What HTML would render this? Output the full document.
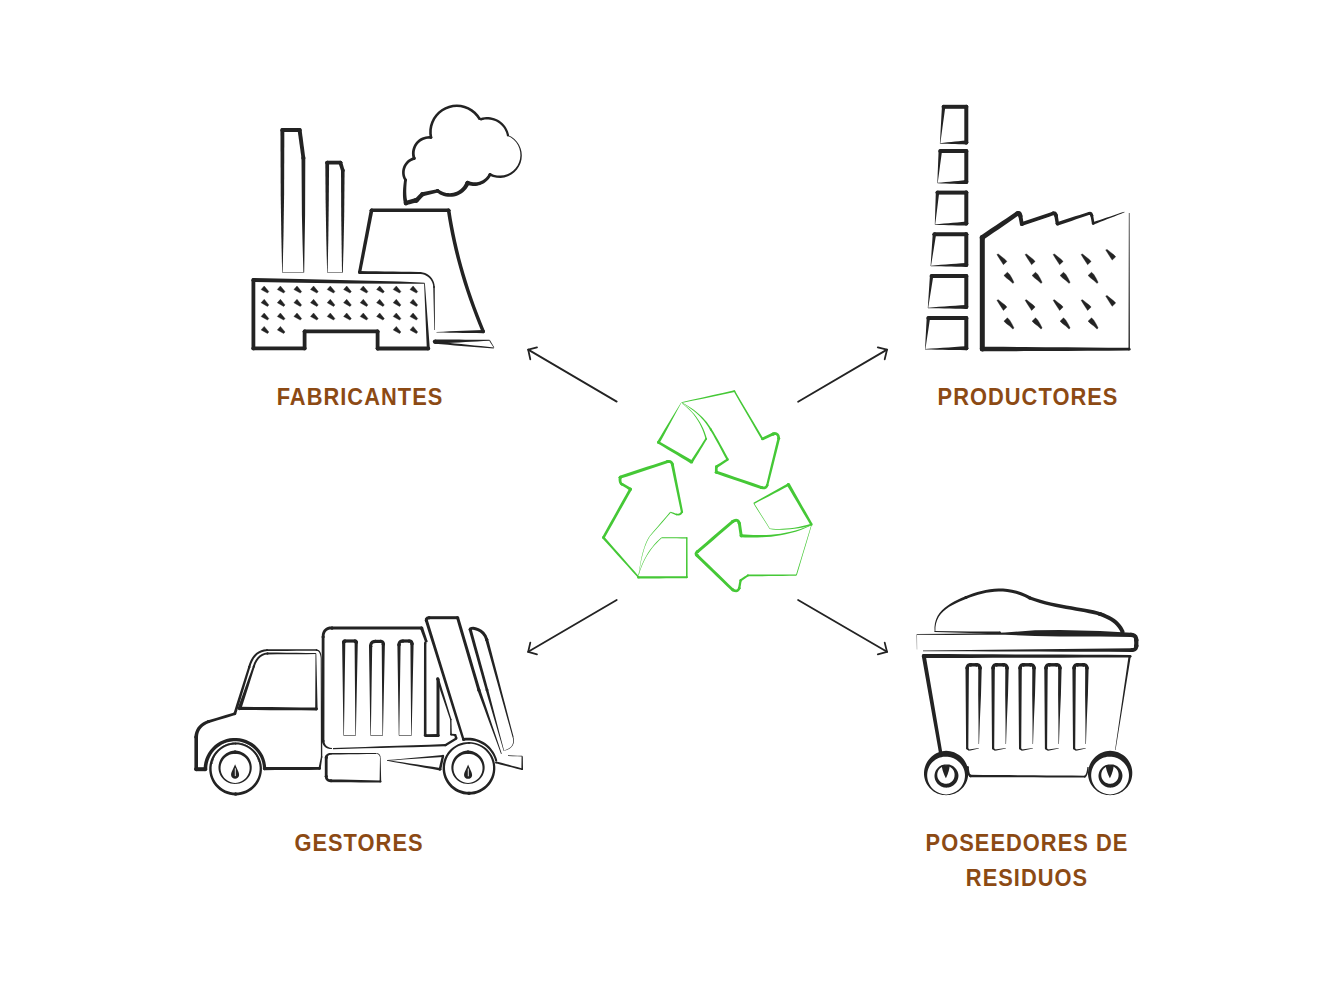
<!DOCTYPE html><html><head><meta charset="utf-8"><style>
html,body{margin:0;padding:0;background:#fff;width:1333px;height:1000px;overflow:hidden}
svg{position:absolute;left:0;top:0}
.lb{position:absolute;transform:translateX(-50%) scaleX(0.93);letter-spacing:1.1px;font-family:"Liberation Sans",sans-serif;font-weight:bold;font-size:23.5px;line-height:28px;color:#8c4a14;white-space:nowrap}
</style></head><body><svg width="1333" height="1000" viewBox="0 0 1333 1000"><path d="M616.7 401.6L528.2 349.6" stroke="#232323" stroke-width="1.8" fill="none" stroke-linecap="round"/><path d="M537 347.3L528.2 349.6L530.3 359.3" stroke="#232323" stroke-width="1.8" fill="none" stroke-linecap="round" stroke-linejoin="miter"/><path d="M798.1 401.8L887 349.6" stroke="#232323" stroke-width="1.8" fill="none" stroke-linecap="round"/><path d="M877.8 347.3L887 349.6L884.7 359.3" stroke="#232323" stroke-width="1.8" fill="none" stroke-linecap="round" stroke-linejoin="miter"/><path d="M616.7 600L528.2 651.8" stroke="#232323" stroke-width="1.8" fill="none" stroke-linecap="round"/><path d="M530.3 642.6L528.2 651.8L537 654.3" stroke="#232323" stroke-width="1.8" fill="none" stroke-linecap="round" stroke-linejoin="miter"/><path d="M798.1 600L887 651.8" stroke="#232323" stroke-width="1.8" fill="none" stroke-linecap="round"/><path d="M884.7 642.6L887 651.8L877.8 654.3" stroke="#232323" stroke-width="1.8" fill="none" stroke-linecap="round" stroke-linejoin="miter"/><path d="M282.65,272.5 283.5,235 284.1,195 284.35,130 280.45,130 280.7,195 281.3,235 282.15,272.5Z" fill="#232323"/><circle cx="282.4" cy="130" r="1.95" fill="#232323"/><path d="M282.4,132 299.6,132 299.6,128 282.4,128Z" fill="#232323"/><circle cx="282.4" cy="130" r="2" fill="#232323"/><circle cx="299.6" cy="130" r="2" fill="#232323"/><path d="M297.62,130.27 301.52,158.26 305.28,157.74 301.58,129.73Z" fill="#232323"/><circle cx="299.6" cy="130" r="2" fill="#232323"/><circle cx="303.4" cy="158" r="1.9" fill="#232323"/><path d="M301.5,158 301.9,215 302.6,245.01 303.4,272.5 304.2,272.5 304.6,244.99 305.1,215 305.3,158Z" fill="#232323"/><circle cx="303.4" cy="158" r="1.9" fill="#232323"/><path d="M282.4,272.85 303.6,272.65 303.6,272.15 282.4,272.35Z" fill="#232323"/><path d="M327.65,272.5 328.3,240 328.8,200 329.1,162.6 325.3,162.6 325.6,200 326.3,240 327.15,272.5Z" fill="#232323"/><circle cx="327.2" cy="162.6" r="1.9" fill="#232323"/><path d="M327.2,164.5 340.4,164.5 340.4,160.7 327.2,160.7Z" fill="#232323"/><circle cx="327.2" cy="162.6" r="1.9" fill="#232323"/><circle cx="340.4" cy="162.6" r="1.9" fill="#232323"/><path d="M338.58,163.15 341.08,171.02 344.52,169.98 342.22,162.05Z" fill="#232323"/><circle cx="340.4" cy="162.6" r="1.9" fill="#232323"/><circle cx="342.8" cy="170.5" r="1.8" fill="#232323"/><path d="M341,170.5 341.2,215 341.6,244.99 342,272.5 342.8,272.5 343.6,245.01 344.2,215 344.6,170.5Z" fill="#232323"/><circle cx="342.8" cy="170.5" r="1.8" fill="#232323"/><path d="M327.4,272.85 342.4,272.65 342.4,272.15 327.4,272.35Z" fill="#232323"/><path d="M361.17,272.6 373.37,210.54 369.83,209.86 358.03,272Z" fill="#232323"/><circle cx="359.6" cy="272.3" r="1.6" fill="#232323"/><circle cx="371.6" cy="210.2" r="1.8" fill="#232323"/><path d="M371.6,212 448.6,212 448.6,208.4 371.6,208.4Z" fill="#232323"/><circle cx="371.6" cy="210.2" r="1.8" fill="#232323"/><circle cx="448.6" cy="210.2" r="1.8" fill="#232323"/><path d="M446.82,210.48 448.09,218.48 449.52,226.51 451.09,234.55 452.82,242.61 454.69,250.68 456.72,258.77 458.9,266.87 461.22,274.99 463.7,283.13 466.33,291.28 469.11,299.44 472.04,307.62 475.12,315.82 478.35,324.03 481.73,332.25 484.87,330.95 481.52,322.76 478.32,314.59 475.27,306.44 472.37,298.31 469.62,290.19 467.03,282.09 464.58,274 462.28,265.94 460.13,257.89 458.13,249.85 456.28,241.84 454.58,233.84 453.03,225.85 451.63,217.89 450.38,209.92Z" fill="#232323"/><circle cx="448.6" cy="210.2" r="1.8" fill="#232323"/><circle cx="483.3" cy="331.6" r="1.7" fill="#232323"/><path d="M436.5,332.5 443.19,332.6 449.88,332.7 456.57,332.8 463.26,332.9 469.94,333 476.63,333.1 483.32,333.2 483.28,330 476.6,330.27 469.91,330.54 463.23,330.81 456.55,331.09 449.86,331.36 443.18,331.63 436.5,331.9Z" fill="#232323"/><circle cx="483.3" cy="331.6" r="1.6" fill="#232323"/><path d="M359.59,273.9 368,273.91 376.42,273.93 384.83,273.94 393.25,273.96 401.66,273.97 410.08,273.99 418.49,274 418.51,272 410.09,271.87 401.68,271.74 393.27,271.61 384.85,271.49 376.44,271.36 368.03,271.23 359.61,271.1Z" fill="#232323"/><circle cx="359.6" cy="272.5" r="1.4" fill="#232323"/><circle cx="418.5" cy="273" r="1" fill="#232323"/><path d="M418.49,274 420.54,273.99 422.49,274.27 424.39,274.83 426.19,275.66 427.85,276.75 429.34,278.06 430.63,279.58 431.68,281.28 432.48,283.11 433.01,285.04 433.25,287.08 434.75,286.92 434.53,284.76 433.99,282.59 433.14,280.53 432,278.61 430.59,276.87 428.94,275.35 427.09,274.08 425.07,273.09 422.92,272.41 420.69,272.04 418.51,272Z" fill="#232323"/><circle cx="418.5" cy="273" r="1" fill="#232323"/><circle cx="434" cy="287" r="0.75" fill="#232323"/><path d="M433.25,287.01 433.4,293.15 433.55,299.29 433.7,305.44 433.85,311.58 434,317.72 434.15,323.86 434.3,330 434.9,330 434.88,323.85 434.86,317.71 434.84,311.56 434.81,305.42 434.79,299.28 434.77,293.13 434.75,286.99Z" fill="#232323"/><circle cx="434" cy="287" r="0.75" fill="#232323"/><path d="M435.05,343.8 441.1,343.46 447.15,343.12 453.21,342.78 459.26,342.44 465.31,342.11 471.36,341.77 477.41,341.43 483.46,341.09 489.51,340.75 489.49,339.85 483.43,339.8 477.37,339.75 471.31,339.7 465.25,339.65 459.19,339.6 453.13,339.55 447.07,339.5 441.01,339.45 434.95,339.4Z" fill="#232323"/><circle cx="435" cy="341.6" r="2.2" fill="#232323"/><path d="M434.89,343.79 441.43,344.32 447.97,344.85 454.51,345.38 461.05,345.91 467.59,346.44 474.13,346.96 480.67,347.49 487.21,348.02 493.75,348.55 493.85,347.45 487.32,346.78 480.8,346.11 474.27,345.44 467.74,344.76 461.22,344.09 454.69,343.42 448.16,342.75 441.64,342.08 435.11,341.41Z" fill="#232323"/><circle cx="435" cy="342.6" r="1.2" fill="#232323"/><path d="M489.12,340.43 490.64,342.88 492.17,345.33 493.7,347.78 494.3,347.42 492.83,344.93 491.36,342.45 489.88,339.97Z" fill="#232323"/><path d="M424.51,282.75 400.02,281.6 350.03,280.15 300.04,279 253.44,278.05 253.36,281.95 299.96,282.8 349.97,283.45 399.98,283.8 424.49,283.65Z" fill="#232323"/><circle cx="253.4" cy="280" r="1.95" fill="#232323"/><path d="M251.5,280 251.5,348.4 255.3,348.4 255.3,280Z" fill="#232323"/><circle cx="253.4" cy="280" r="1.9" fill="#232323"/><circle cx="253.4" cy="348.4" r="1.9" fill="#232323"/><path d="M253.4,350.3 304.6,350.3 304.6,346.5 253.4,346.5Z" fill="#232323"/><circle cx="253.4" cy="348.4" r="1.9" fill="#232323"/><circle cx="304.6" cy="348.4" r="1.9" fill="#232323"/><path d="M306.5,348.4 306.5,331.4 302.7,331.4 302.7,348.4Z" fill="#232323"/><circle cx="304.6" cy="348.4" r="1.9" fill="#232323"/><circle cx="304.6" cy="331.4" r="1.9" fill="#232323"/><path d="M304.6,333.3 377.6,333.3 377.6,329.5 304.6,329.5Z" fill="#232323"/><circle cx="304.6" cy="331.4" r="1.9" fill="#232323"/><circle cx="377.6" cy="331.4" r="1.9" fill="#232323"/><path d="M375.7,331.4 375.7,348.5 379.5,348.5 379.5,331.4Z" fill="#232323"/><circle cx="377.6" cy="331.4" r="1.9" fill="#232323"/><circle cx="377.6" cy="348.5" r="1.9" fill="#232323"/><path d="M377.6,350.4 428.3,350.4 428.3,346.6 377.6,346.6Z" fill="#232323"/><circle cx="377.6" cy="348.5" r="1.9" fill="#232323"/><circle cx="428.3" cy="348.5" r="1.9" fill="#232323"/><path d="M429.8,348.41 429.1,339.09 428.4,329.77 427.7,320.45 427,311.14 426.3,301.82 425.6,292.5 424.9,283.18 424.1,283.22 424.49,292.56 424.87,301.9 425.26,311.24 425.64,320.57 426.03,329.91 426.42,339.25 426.8,348.59Z" fill="#232323"/><circle cx="428.3" cy="348.5" r="1.5" fill="#232323"/><path d="M264.2,286 268.8,291.6 267.5,293.1 261.1,289.5Z" fill="#232323" stroke="#232323" stroke-width="0.4" stroke-linejoin="round"/><path d="M280.4,286 285,291.6 283.7,293.1 277.3,289.5Z" fill="#232323" stroke="#232323" stroke-width="0.4" stroke-linejoin="round"/><path d="M297,286 301.6,291.6 300.3,293.1 293.9,289.5Z" fill="#232323" stroke="#232323" stroke-width="0.4" stroke-linejoin="round"/><path d="M313.6,286 318.2,291.6 316.9,293.1 310.5,289.5Z" fill="#232323" stroke="#232323" stroke-width="0.4" stroke-linejoin="round"/><path d="M330.3,286 334.9,291.6 333.6,293.1 327.2,289.5Z" fill="#232323" stroke="#232323" stroke-width="0.4" stroke-linejoin="round"/><path d="M346.7,286 351.3,291.6 350,293.1 343.6,289.5Z" fill="#232323" stroke="#232323" stroke-width="0.4" stroke-linejoin="round"/><path d="M363.3,286 367.9,291.6 366.6,293.1 360.2,289.5Z" fill="#232323" stroke="#232323" stroke-width="0.4" stroke-linejoin="round"/><path d="M379.7,286 384.3,291.6 383,293.1 376.6,289.5Z" fill="#232323" stroke="#232323" stroke-width="0.4" stroke-linejoin="round"/><path d="M396.3,286 400.9,291.6 399.6,293.1 393.2,289.5Z" fill="#232323" stroke="#232323" stroke-width="0.4" stroke-linejoin="round"/><path d="M413.1,286 417.7,291.6 416.4,293.1 410,289.5Z" fill="#232323" stroke="#232323" stroke-width="0.4" stroke-linejoin="round"/><path d="M264.2,299.3 268.8,304.9 267.5,306.4 261.1,302.8Z" fill="#232323" stroke="#232323" stroke-width="0.4" stroke-linejoin="round"/><path d="M280.4,299.3 285,304.9 283.7,306.4 277.3,302.8Z" fill="#232323" stroke="#232323" stroke-width="0.4" stroke-linejoin="round"/><path d="M297,299.3 301.6,304.9 300.3,306.4 293.9,302.8Z" fill="#232323" stroke="#232323" stroke-width="0.4" stroke-linejoin="round"/><path d="M313.6,299.3 318.2,304.9 316.9,306.4 310.5,302.8Z" fill="#232323" stroke="#232323" stroke-width="0.4" stroke-linejoin="round"/><path d="M330.3,299.3 334.9,304.9 333.6,306.4 327.2,302.8Z" fill="#232323" stroke="#232323" stroke-width="0.4" stroke-linejoin="round"/><path d="M346.7,299.3 351.3,304.9 350,306.4 343.6,302.8Z" fill="#232323" stroke="#232323" stroke-width="0.4" stroke-linejoin="round"/><path d="M363.3,299.3 367.9,304.9 366.6,306.4 360.2,302.8Z" fill="#232323" stroke="#232323" stroke-width="0.4" stroke-linejoin="round"/><path d="M379.7,299.3 384.3,304.9 383,306.4 376.6,302.8Z" fill="#232323" stroke="#232323" stroke-width="0.4" stroke-linejoin="round"/><path d="M396.3,299.3 400.9,304.9 399.6,306.4 393.2,302.8Z" fill="#232323" stroke="#232323" stroke-width="0.4" stroke-linejoin="round"/><path d="M413.1,299.3 417.7,304.9 416.4,306.4 410,302.8Z" fill="#232323" stroke="#232323" stroke-width="0.4" stroke-linejoin="round"/><path d="M264.2,313 268.8,318.6 267.5,320.1 261.1,316.5Z" fill="#232323" stroke="#232323" stroke-width="0.4" stroke-linejoin="round"/><path d="M280.4,313 285,318.6 283.7,320.1 277.3,316.5Z" fill="#232323" stroke="#232323" stroke-width="0.4" stroke-linejoin="round"/><path d="M297,313 301.6,318.6 300.3,320.1 293.9,316.5Z" fill="#232323" stroke="#232323" stroke-width="0.4" stroke-linejoin="round"/><path d="M313.6,313 318.2,318.6 316.9,320.1 310.5,316.5Z" fill="#232323" stroke="#232323" stroke-width="0.4" stroke-linejoin="round"/><path d="M330.3,313 334.9,318.6 333.6,320.1 327.2,316.5Z" fill="#232323" stroke="#232323" stroke-width="0.4" stroke-linejoin="round"/><path d="M346.7,313 351.3,318.6 350,320.1 343.6,316.5Z" fill="#232323" stroke="#232323" stroke-width="0.4" stroke-linejoin="round"/><path d="M363.3,313 367.9,318.6 366.6,320.1 360.2,316.5Z" fill="#232323" stroke="#232323" stroke-width="0.4" stroke-linejoin="round"/><path d="M379.7,313 384.3,318.6 383,320.1 376.6,316.5Z" fill="#232323" stroke="#232323" stroke-width="0.4" stroke-linejoin="round"/><path d="M396.3,313 400.9,318.6 399.6,320.1 393.2,316.5Z" fill="#232323" stroke="#232323" stroke-width="0.4" stroke-linejoin="round"/><path d="M413.1,313 417.7,318.6 416.4,320.1 410,316.5Z" fill="#232323" stroke="#232323" stroke-width="0.4" stroke-linejoin="round"/><path d="M264.2,326.4 268.8,332 267.5,333.5 261.1,329.9Z" fill="#232323" stroke="#232323" stroke-width="0.4" stroke-linejoin="round"/><path d="M280.4,326.4 285,332 283.7,333.5 277.3,329.9Z" fill="#232323" stroke="#232323" stroke-width="0.4" stroke-linejoin="round"/><path d="M396.3,326.4 400.9,332 399.6,333.5 393.2,329.9Z" fill="#232323" stroke="#232323" stroke-width="0.4" stroke-linejoin="round"/><path d="M413.1,326.4 417.7,332 416.4,333.5 410,329.9Z" fill="#232323" stroke="#232323" stroke-width="0.4" stroke-linejoin="round"/><path d="M407.82,202.95 407.5,201.97 407.22,200.95 406.98,199.85 406.77,198.66 406.6,197.38 406.46,196.03 406.36,194.59 406.29,193.07 406.26,191.47 406.27,189.78 406.32,188.02 406.4,186.18 406.53,184.26 406.69,182.25 406.89,180.16 404.11,179.84 403.82,181.94 403.57,183.98 403.36,185.94 403.19,187.84 403.06,189.66 402.98,191.41 402.94,193.1 402.94,194.71 402.98,196.25 403.07,197.73 403.2,199.13 403.38,200.47 403.6,201.75 403.88,202.96 404.18,204.05Z" fill="#232323"/><circle cx="406" cy="203.5" r="1.9" fill="#232323"/><circle cx="405.5" cy="180" r="1.4" fill="#232323"/><path d="M406.64,179.38 406,178.19 405.5,177 405.12,175.77 404.86,174.51 404.73,173.23 404.73,171.94 404.85,170.66 405.09,169.4 405.46,168.17 405.95,166.98 406.55,165.84 407.26,164.77 408.07,163.78 408.97,162.87 409.96,162.05 411.02,161.34 412.15,160.73 413.33,160.23 414.62,159.84 413.78,157.16 412.37,157.61 410.94,158.22 409.58,158.97 408.3,159.85 407.11,160.85 406.03,161.96 405.06,163.17 404.21,164.47 403.49,165.84 402.92,167.28 402.49,168.77 402.2,170.29 402.07,171.83 402.09,173.38 402.25,174.92 402.57,176.43 403.04,177.9 403.65,179.32 404.36,180.62Z" fill="#232323"/><circle cx="405.5" cy="180" r="1.3" fill="#232323"/><circle cx="414.2" cy="158.5" r="1.4" fill="#232323"/><path d="M415.54,158.11 415.08,156.56 414.81,155.04 414.69,153.51 414.74,151.97 414.95,150.44 415.33,148.94 415.86,147.49 416.54,146.11 417.37,144.81 418.33,143.6 419.42,142.49 420.61,141.51 421.91,140.67 423.28,139.96 424.73,139.41 426.22,139.01 427.75,138.77 429.3,138.7 430.92,138.8 431.08,136.2 429.33,136.09 427.5,136.16 425.69,136.43 423.92,136.89 422.21,137.54 420.58,138.36 419.04,139.35 417.61,140.51 416.32,141.8 415.17,143.23 414.18,144.77 413.36,146.41 412.72,148.13 412.26,149.91 411.99,151.72 411.92,153.56 412.05,155.39 412.37,157.2 412.86,158.89Z" fill="#232323"/><circle cx="414.2" cy="158.5" r="1.4" fill="#232323"/><circle cx="431" cy="137.5" r="1.3" fill="#232323"/><path d="M432.29,137.33 431.78,133.56 431.84,129.85 432.45,126.19 433.59,122.66 435.24,119.33 437.37,116.29 439.92,113.6 442.84,111.31 446.06,109.48 449.52,108.14 453.14,107.33 456.85,107.07 460.54,107.35 464.16,108.18 467.61,109.54 470.83,111.39 473.74,113.69 476.27,116.4 478.43,119.54 480.57,118.06 478.3,114.77 475.5,111.78 472.29,109.24 468.74,107.19 464.93,105.7 460.94,104.78 456.85,104.47 452.77,104.76 448.77,105.65 444.95,107.13 441.39,109.15 438.16,111.67 435.35,114.65 433.01,118.01 431.18,121.68 429.92,125.57 429.25,129.61 429.19,133.71 429.71,137.67Z" fill="#232323"/><circle cx="431" cy="137.5" r="1.3" fill="#232323"/><circle cx="479.5" cy="118.8" r="1.3" fill="#232323"/><path d="M481.3,120.36 483.06,119.89 484.81,119.6 486.57,119.45 488.34,119.47 490.1,119.64 491.84,119.96 493.54,120.44 495.2,121.07 496.79,121.84 498.31,122.75 499.74,123.8 501.08,124.96 502.31,126.24 503.41,127.62 504.4,129.1 505.24,130.66 505.95,132.29 506.51,133.97 506.93,135.75 509.07,135.25 508.64,133.38 508.03,131.5 507.25,129.69 506.32,127.95 505.24,126.3 504.01,124.75 502.65,123.32 501.17,122.01 499.58,120.84 497.89,119.82 496.12,118.95 494.28,118.23 492.38,117.69 490.43,117.31 488.47,117.11 486.49,117.09 484.51,117.23 482.56,117.56 480.7,118.04Z" fill="#232323"/><circle cx="481" cy="119.2" r="1.2" fill="#232323"/><circle cx="508" cy="135.5" r="1.1" fill="#232323"/><path d="M507.84,135.81 510.99,137.52 513.78,139.72 516.15,142.35 518.05,145.33 519.41,148.58 520.2,152.01 520.41,155.51 520.03,158.99 519.07,162.34 517.57,165.49 515.56,168.32 513.12,170.78 510.3,172.78 507.19,174.28 503.88,175.23 500.47,175.61 497.06,175.41 493.73,174.65 490.48,173.29 489.52,175.71 493,177.04 496.75,177.79 500.57,177.91 504.34,177.38 507.97,176.23 511.34,174.49 514.36,172.21 516.96,169.46 519.05,166.33 520.58,162.89 521.51,159.26 521.81,155.52 521.49,151.8 520.54,148.2 519.01,144.81 516.94,141.73 514.38,139.06 511.42,136.85 508.16,135.19Z" fill="#232323"/><circle cx="490" cy="174.5" r="1.3" fill="#232323"/><path d="M488.78,173.82 488.11,174.96 487.38,176 486.57,176.98 485.69,177.88 484.75,178.72 483.74,179.48 482.68,180.15 481.57,180.73 480.42,181.23 479.24,181.64 478.03,181.95 476.81,182.16 475.57,182.27 474.33,182.29 473.1,182.21 471.88,182.04 470.68,181.77 469.5,181.41 468.29,180.92 466.91,184.68 468.29,185.15 469.78,185.54 471.29,185.8 472.81,185.95 474.34,185.98 475.86,185.88 477.37,185.67 478.85,185.34 480.31,184.9 481.72,184.34 483.08,183.68 484.38,182.91 485.61,182.04 486.77,181.08 487.85,180.04 488.85,178.91 489.75,177.72 490.55,176.45 491.22,175.18Z" fill="#232323"/><circle cx="490" cy="174.5" r="1.4" fill="#232323"/><circle cx="467.6" cy="182.8" r="2" fill="#232323"/><path d="M465.69,181.93 464.97,183.58 464.14,185.05 463.17,186.44 462.06,187.73 460.83,188.91 459.5,189.96 458.06,190.88 456.54,191.65 454.94,192.27 453.3,192.73 451.61,193.03 449.9,193.16 448.18,193.12 446.48,192.92 444.8,192.54 443.16,192.01 441.58,191.31 440.08,190.46 438.59,189.42 436.61,192.18 438.2,193.35 439.98,194.41 441.86,195.28 443.81,195.97 445.82,196.47 447.88,196.76 449.95,196.86 452.03,196.74 454.09,196.43 456.11,195.91 458.07,195.2 459.95,194.3 461.74,193.21 463.41,191.96 464.96,190.54 466.36,188.98 467.6,187.29 468.67,185.48 469.51,183.67Z" fill="#232323"/><circle cx="467.6" cy="182.8" r="2.1" fill="#232323"/><circle cx="437.6" cy="190.8" r="1.7" fill="#232323"/><path d="M437.23,189.14 432.16,190.14 427.1,191.15 422.04,192.15 422.96,196.25 427.97,194.99 432.97,193.72 437.97,192.46Z" fill="#232323"/><circle cx="437.6" cy="190.8" r="1.7" fill="#232323"/><circle cx="422.5" cy="194.2" r="2.1" fill="#232323"/><path d="M421,192.73 418.86,194.81 416.71,196.9 414.56,198.99 417.84,202.21 419.89,200.03 421.94,197.85 424,195.67Z" fill="#232323"/><circle cx="422.5" cy="194.2" r="2.1" fill="#232323"/><circle cx="416.2" cy="200.6" r="2.3" fill="#232323"/><path d="M415.6,197.98 412.14,198.94 408.69,199.91 405.23,200.88 406.37,205.12 409.85,204.22 413.32,203.32 416.8,202.42Z" fill="#232323"/><circle cx="416.2" cy="200.2" r="2.3" fill="#232323"/><circle cx="405.8" cy="203" r="2.2" fill="#232323"/><path d="M943.6,108.8 951.17,108.8 958.73,108.8 966.3,108.8 966.3,104.8 958.73,104.8 951.17,104.8 943.6,104.8Z" fill="#232323"/><circle cx="943.6" cy="106.8" r="2" fill="#232323"/><circle cx="966.3" cy="106.8" r="2" fill="#232323"/><path d="M964.3,106.8 964.3,118.67 964.3,130.53 964.3,142.4 968.3,142.4 968.3,130.53 968.3,118.67 968.3,106.8Z" fill="#232323"/><circle cx="966.3" cy="106.8" r="2" fill="#232323"/><circle cx="966.3" cy="142.4" r="2" fill="#232323"/><path d="M966.22,140.4 962.49,140.79 958.76,141.19 955.02,141.58 951.29,141.97 947.56,142.36 943.82,142.76 940.09,143.15 940.11,143.65 943.86,143.76 947.61,143.86 951.37,143.97 955.12,144.08 958.87,144.18 962.62,144.29 966.38,144.4Z" fill="#232323"/><circle cx="966.3" cy="142.4" r="2" fill="#232323"/><path d="M941.91,106.64 941.62,111.89 941.33,117.14 941.05,122.39 940.76,127.63 940.47,132.88 940.19,138.13 939.9,143.38 940.3,143.42 941.01,138.21 941.73,133 942.44,127.79 943.15,122.59 943.87,117.38 944.58,112.17 945.29,106.96Z" fill="#232323"/><circle cx="943.6" cy="106.8" r="1.7" fill="#232323"/><path d="M940.3,153 948.97,153 957.63,153 966.3,153 966.3,149 957.63,149 948.97,149 940.3,149Z" fill="#232323"/><circle cx="940.3" cy="151" r="2" fill="#232323"/><circle cx="966.3" cy="151" r="2" fill="#232323"/><path d="M964.3,151 964.3,161.37 964.3,171.73 964.3,182.1 968.3,182.1 968.3,171.73 968.3,161.37 968.3,151Z" fill="#232323"/><circle cx="966.3" cy="151" r="2" fill="#232323"/><circle cx="966.3" cy="182.1" r="2" fill="#232323"/><path d="M966.23,180.1 962.12,180.49 958.02,180.89 953.91,181.28 949.81,181.67 945.7,182.06 941.6,182.46 937.49,182.85 937.51,183.35 941.63,183.46 945.75,183.56 949.88,183.67 954,183.78 958.12,183.88 962.25,183.99 966.37,184.1Z" fill="#232323"/><circle cx="966.3" cy="182.1" r="2" fill="#232323"/><path d="M938.61,150.85 938.42,155.46 938.23,160.06 938.05,164.67 937.86,169.27 937.67,173.87 937.49,178.48 937.3,183.08 937.7,183.12 938.31,178.55 938.93,173.98 939.54,169.42 940.15,164.85 940.77,160.28 941.38,155.71 941.99,151.15Z" fill="#232323"/><circle cx="940.3" cy="151" r="1.7" fill="#232323"/><path d="M937.5,194.6 947.1,194.6 956.7,194.6 966.3,194.6 966.3,190.6 956.7,190.6 947.1,190.6 937.5,190.6Z" fill="#232323"/><circle cx="937.5" cy="192.6" r="2" fill="#232323"/><circle cx="966.3" cy="192.6" r="2" fill="#232323"/><path d="M964.3,192.6 964.3,202.93 964.3,213.27 964.3,223.6 968.3,223.6 968.3,213.27 968.3,202.93 968.3,192.6Z" fill="#232323"/><circle cx="966.3" cy="192.6" r="2" fill="#232323"/><circle cx="966.3" cy="223.6" r="2" fill="#232323"/><path d="M966.24,221.6 961.77,221.99 957.31,222.39 952.85,222.78 948.38,223.17 943.92,223.56 939.46,223.96 934.99,224.35 935.01,224.85 939.49,224.96 943.97,225.06 948.45,225.17 952.93,225.28 957.41,225.38 961.88,225.49 966.36,225.6Z" fill="#232323"/><circle cx="966.3" cy="223.6" r="2" fill="#232323"/><path d="M935.81,192.47 935.66,197.06 935.52,201.64 935.37,206.23 935.23,210.82 935.09,215.41 934.94,220 934.8,224.58 935.2,224.62 935.77,220.06 936.34,215.51 936.91,210.95 937.48,206.4 938.05,201.84 938.62,197.29 939.19,192.73Z" fill="#232323"/><circle cx="937.5" cy="192.6" r="1.7" fill="#232323"/><path d="M934.4,236.3 945.03,236.3 955.67,236.3 966.3,236.3 966.3,232.3 955.67,232.3 945.03,232.3 934.4,232.3Z" fill="#232323"/><circle cx="934.4" cy="234.3" r="2" fill="#232323"/><circle cx="966.3" cy="234.3" r="2" fill="#232323"/><path d="M964.3,234.3 964.3,244.5 964.3,254.7 964.3,264.9 968.3,264.9 968.3,254.7 968.3,244.5 968.3,234.3Z" fill="#232323"/><circle cx="966.3" cy="234.3" r="2" fill="#232323"/><circle cx="966.3" cy="264.9" r="2" fill="#232323"/><path d="M966.24,262.9 961.18,263.29 956.11,263.69 951.05,264.08 945.99,264.47 940.92,264.86 935.86,265.26 930.79,265.65 930.81,266.15 935.89,266.26 940.96,266.36 946.04,266.47 951.12,266.58 956.2,266.69 961.28,266.79 966.36,266.9Z" fill="#232323"/><circle cx="966.3" cy="264.9" r="2" fill="#232323"/><path d="M932.71,234.11 932.41,238.65 932.11,243.18 931.81,247.72 931.51,252.26 931.2,256.8 930.9,261.34 930.6,265.88 931,265.92 931.73,261.43 932.45,256.94 933.18,252.45 933.91,247.96 934.63,243.47 935.36,238.98 936.09,234.49Z" fill="#232323"/><circle cx="934.4" cy="234.3" r="1.7" fill="#232323"/><path d="M931.6,277.9 943.17,277.9 954.73,277.9 966.3,277.9 966.3,273.9 954.73,273.9 943.17,273.9 931.6,273.9Z" fill="#232323"/><circle cx="931.6" cy="275.9" r="2" fill="#232323"/><circle cx="966.3" cy="275.9" r="2" fill="#232323"/><path d="M964.3,275.9 964.3,286.23 964.3,296.57 964.3,306.9 968.3,306.9 968.3,296.57 968.3,286.23 968.3,275.9Z" fill="#232323"/><circle cx="966.3" cy="275.9" r="2" fill="#232323"/><circle cx="966.3" cy="306.9" r="2" fill="#232323"/><path d="M966.25,304.9 960.78,305.29 955.32,305.69 949.85,306.08 944.39,306.47 938.92,306.86 933.46,307.26 927.99,307.65 928.01,308.15 933.48,308.26 938.96,308.36 944.44,308.47 949.92,308.58 955.4,308.69 960.87,308.79 966.35,308.9Z" fill="#232323"/><circle cx="966.3" cy="306.9" r="2" fill="#232323"/><path d="M929.91,275.71 929.61,280.31 929.31,284.9 929.01,289.5 928.71,294.09 928.4,298.69 928.1,303.28 927.8,307.88 928.2,307.92 928.93,303.37 929.65,298.83 930.38,294.28 931.11,289.73 931.83,285.18 932.56,280.64 933.29,276.09Z" fill="#232323"/><circle cx="931.6" cy="275.9" r="1.7" fill="#232323"/><path d="M928.4,319.9 941.03,319.9 953.67,319.9 966.3,319.9 966.3,315.9 953.67,315.9 941.03,315.9 928.4,315.9Z" fill="#232323"/><circle cx="928.4" cy="317.9" r="2" fill="#232323"/><circle cx="966.3" cy="317.9" r="2" fill="#232323"/><path d="M964.3,317.9 964.3,328 964.3,338.1 964.3,348.2 968.3,348.2 968.3,338.1 968.3,328 968.3,317.9Z" fill="#232323"/><circle cx="966.3" cy="317.9" r="2" fill="#232323"/><circle cx="966.3" cy="348.2" r="2" fill="#232323"/><path d="M966.25,346.2 960.39,346.59 954.52,346.99 948.66,347.38 942.79,347.77 936.92,348.16 931.06,348.56 925.19,348.95 925.21,349.45 931.08,349.56 936.96,349.66 942.84,349.77 948.72,349.88 954.59,349.99 960.47,350.09 966.35,350.2Z" fill="#232323"/><circle cx="966.3" cy="348.2" r="2" fill="#232323"/><path d="M926.71,317.73 926.46,322.22 926.22,326.71 925.98,331.21 925.73,335.7 925.49,340.19 925.25,344.69 925,349.18 925.4,349.22 926.07,344.77 926.74,340.32 927.41,335.87 928.08,331.42 928.75,326.97 929.42,322.52 930.09,318.07Z" fill="#232323"/><circle cx="928.4" cy="317.9" r="1.7" fill="#232323"/><path d="M984.8,349 984.8,237.5 979.8,237.5 979.8,349Z" fill="#232323"/><circle cx="982.3" cy="349" r="2.5" fill="#232323"/><circle cx="982.3" cy="237.5" r="2.5" fill="#232323"/><path d="M983.71,239.56 988.73,236.09 993.75,232.61 998.77,229.13 1003.78,225.65 1008.8,222.17 1013.82,218.7 1018.84,215.22 1016.36,211.58 1011.29,214.99 1006.23,218.4 1001.16,221.81 996.09,225.21 991.02,228.62 985.96,232.03 980.89,235.44Z" fill="#232323"/><circle cx="982.3" cy="237.5" r="2.5" fill="#232323"/><circle cx="1017.6" cy="213.4" r="2.2" fill="#232323"/><path d="M1018.31,215.48 1018.64,215.27 1018.13,215.14 1017.93,214.95 1018.14,215.32 1018.45,216.45 1022.35,215.55 1022.05,214.04 1021.39,212.57 1020.08,211.34 1018.19,210.97 1016.89,211.32Z" fill="#232323"/><circle cx="1017.6" cy="213.4" r="2.2" fill="#232323"/><circle cx="1020.4" cy="216" r="2" fill="#232323"/><path d="M1018.43,216.34 1018.93,219.01 1019.43,221.67 1019.93,224.33 1023.67,223.67 1023.24,221 1022.8,218.33 1022.37,215.66Z" fill="#232323"/><circle cx="1020.4" cy="216" r="2" fill="#232323"/><circle cx="1021.8" cy="224" r="1.9" fill="#232323"/><path d="M1022.41,225.8 1026.89,224.27 1031.37,222.74 1035.85,221.22 1040.33,219.69 1044.81,218.16 1049.29,216.63 1053.78,215.11 1052.62,211.69 1048.13,213.2 1043.64,214.7 1039.15,216.2 1034.66,217.7 1030.17,219.2 1025.68,220.7 1021.19,222.2Z" fill="#232323"/><circle cx="1021.8" cy="224" r="1.9" fill="#232323"/><circle cx="1053.2" cy="213.4" r="1.8" fill="#232323"/><path d="M1053.7,215.13 1054.19,214.95 1054.03,214.9 1053.91,214.82 1054.06,215.08 1054.32,215.98 1057.68,215.02 1057.33,213.76 1056.62,212.53 1055.38,211.61 1053.85,211.38 1052.7,211.67Z" fill="#232323"/><circle cx="1053.2" cy="213.4" r="1.8" fill="#232323"/><circle cx="1056" cy="215.5" r="1.75" fill="#232323"/><path d="M1054.27,215.79 1054.76,218.55 1055.24,221.32 1055.72,224.08 1059.08,223.52 1058.63,220.75 1058.18,217.98 1057.73,215.21Z" fill="#232323"/><circle cx="1056" cy="215.5" r="1.75" fill="#232323"/><circle cx="1057.4" cy="223.8" r="1.7" fill="#232323"/><path d="M1057.93,225.42 1062.46,223.9 1067,222.39 1071.53,220.88 1076.06,219.36 1080.6,217.85 1085.13,216.34 1089.67,214.83 1088.73,211.97 1084.18,213.43 1079.63,214.89 1075.08,216.35 1070.53,217.81 1065.98,219.27 1061.42,220.73 1056.87,222.18Z" fill="#232323"/><circle cx="1057.4" cy="223.8" r="1.7" fill="#232323"/><circle cx="1089.2" cy="213.4" r="1.5" fill="#232323"/><path d="M1089.54,214.86 1090,214.71 1089.95,214.68 1089.97,214.69 1090.18,215.03 1090.46,215.89 1093.14,215.11 1092.83,213.95 1092.22,212.86 1091.2,212.03 1089.89,211.75 1088.86,211.94Z" fill="#232323"/><circle cx="1089.2" cy="213.4" r="1.5" fill="#232323"/><circle cx="1091.8" cy="215.5" r="1.4" fill="#232323"/><path d="M1090.42,215.74 1090.92,218.37 1091.42,221 1091.92,223.63 1094.48,223.17 1094.05,220.53 1093.61,217.89 1093.18,215.26Z" fill="#232323"/><circle cx="1091.8" cy="215.5" r="1.4" fill="#232323"/><circle cx="1093.2" cy="223.4" r="1.3" fill="#232323"/><path d="M1093.61,224.53 1097.06,223.17 1100.5,221.82 1103.95,220.46 1107.39,219.11 1110.84,217.75 1114.28,216.4 1117.73,215.04 1121.17,213.68 1124.62,212.33 1124.38,211.67 1120.87,212.85 1117.36,214.03 1113.85,215.2 1110.34,216.38 1106.83,217.56 1103.32,218.74 1099.81,219.92 1096.3,221.09 1092.79,222.27Z" fill="#232323"/><circle cx="1093.2" cy="223.4" r="1.2" fill="#232323"/><path d="M1128.85,213 1128.8,232.43 1128.75,251.86 1128.7,271.29 1128.65,290.71 1128.6,310.14 1128.55,329.57 1128.5,349 1129.9,349 1129.85,329.57 1129.8,310.14 1129.75,290.71 1129.7,271.29 1129.65,251.86 1129.6,232.43 1129.55,213Z" fill="#232323"/><circle cx="1129.2" cy="349" r="0.7" fill="#232323"/><path d="M982.3,351.3 1003.28,351.2 1024.27,351.1 1045.25,351 1066.24,350.9 1087.23,350.8 1108.21,350.7 1129.2,350.6 1129.2,347.8 1108.22,347.64 1087.23,347.49 1066.25,347.33 1045.26,347.17 1024.27,347.01 1003.29,346.86 982.3,346.7Z" fill="#232323"/><circle cx="982.3" cy="349" r="2.3" fill="#232323"/><circle cx="1129.2" cy="349.2" r="1.4" fill="#232323"/><path d="M996.9,254.5 998.3,254 1002,257 1005.1,259.4 1006.9,261.4 1003.4,264.7 1002,262.6 999.5,258.7Z" fill="#232323" stroke="#232323" stroke-width="0.4" stroke-linejoin="round"/><path d="M1025.1,254.5 1026.5,254 1030.2,257 1033.3,259.4 1035.1,261.4 1031.6,264.7 1030.2,262.6 1027.7,258.7Z" fill="#232323" stroke="#232323" stroke-width="0.4" stroke-linejoin="round"/><path d="M1053.1,254.5 1054.5,254 1058.2,257 1061.3,259.4 1063.1,261.4 1059.6,264.7 1058.2,262.6 1055.7,258.7Z" fill="#232323" stroke="#232323" stroke-width="0.4" stroke-linejoin="round"/><path d="M1081.1,254.5 1082.5,254 1086.2,257 1089.3,259.4 1091.1,261.4 1087.6,264.7 1086.2,262.6 1083.7,258.7Z" fill="#232323" stroke="#232323" stroke-width="0.4" stroke-linejoin="round"/><path d="M996.9,300.2 998.3,299.7 1002,302.7 1005.1,305.1 1006.9,307.1 1003.4,310.4 1002,308.3 999.5,304.4Z" fill="#232323" stroke="#232323" stroke-width="0.4" stroke-linejoin="round"/><path d="M1025.1,300.2 1026.5,299.7 1030.2,302.7 1033.3,305.1 1035.1,307.1 1031.6,310.4 1030.2,308.3 1027.7,304.4Z" fill="#232323" stroke="#232323" stroke-width="0.4" stroke-linejoin="round"/><path d="M1053.1,300.2 1054.5,299.7 1058.2,302.7 1061.3,305.1 1063.1,307.1 1059.6,310.4 1058.2,308.3 1055.7,304.4Z" fill="#232323" stroke="#232323" stroke-width="0.4" stroke-linejoin="round"/><path d="M1081.1,300.2 1082.5,299.7 1086.2,302.7 1089.3,305.1 1091.1,307.1 1087.6,310.4 1086.2,308.3 1083.7,304.4Z" fill="#232323" stroke="#232323" stroke-width="0.4" stroke-linejoin="round"/><path d="M1003.9,275.5 1007.4,272.2 1009.7,274.5 1011.8,278 1013.9,282.2 1013.15,283.25 1012.5,283.1 1009.7,280.4 1006.5,278Z" fill="#232323" stroke="#232323" stroke-width="0.4" stroke-linejoin="round"/><path d="M1032.05,275.5 1035.55,272.2 1037.85,274.5 1039.95,278 1042.05,282.2 1041.3,283.25 1040.65,283.1 1037.85,280.4 1034.65,278Z" fill="#232323" stroke="#232323" stroke-width="0.4" stroke-linejoin="round"/><path d="M1060.05,275.5 1063.55,272.2 1065.85,274.5 1067.95,278 1070.05,282.2 1069.3,283.25 1068.65,283.1 1065.85,280.4 1062.65,278Z" fill="#232323" stroke="#232323" stroke-width="0.4" stroke-linejoin="round"/><path d="M1088.05,275.5 1091.55,272.2 1093.85,274.5 1095.95,278 1098.05,282.2 1097.3,283.25 1096.65,283.1 1093.85,280.4 1090.65,278Z" fill="#232323" stroke="#232323" stroke-width="0.4" stroke-linejoin="round"/><path d="M1003.9,321.15 1007.4,317.85 1009.7,320.15 1011.8,323.65 1013.9,327.85 1013.15,328.9 1012.5,328.75 1009.7,326.05 1006.5,323.65Z" fill="#232323" stroke="#232323" stroke-width="0.4" stroke-linejoin="round"/><path d="M1032.05,321.15 1035.55,317.85 1037.85,320.15 1039.95,323.65 1042.05,327.85 1041.3,328.9 1040.65,328.75 1037.85,326.05 1034.65,323.65Z" fill="#232323" stroke="#232323" stroke-width="0.4" stroke-linejoin="round"/><path d="M1060.05,321.15 1063.55,317.85 1065.85,320.15 1067.95,323.65 1070.05,327.85 1069.3,328.9 1068.65,328.75 1065.85,326.05 1062.65,323.65Z" fill="#232323" stroke="#232323" stroke-width="0.4" stroke-linejoin="round"/><path d="M1088.05,321.15 1091.55,317.85 1093.85,320.15 1095.95,323.65 1098.05,327.85 1097.3,328.9 1096.65,328.75 1093.85,326.05 1090.65,323.65Z" fill="#232323" stroke="#232323" stroke-width="0.4" stroke-linejoin="round"/><path d="M1105.7,249.9 1107.1,249.4 1110.8,252.4 1113.9,254.8 1115.7,256.8 1112.2,260.1 1110.8,258 1108.3,254.1Z" fill="#232323" stroke="#232323" stroke-width="0.4" stroke-linejoin="round"/><path d="M1105.7,296.1 1107.1,295.6 1110.8,298.6 1113.9,301 1115.7,303 1112.2,306.3 1110.8,304.2 1108.3,300.3Z" fill="#232323" stroke="#232323" stroke-width="0.4" stroke-linejoin="round"/><path d="M198,769 198,758.33 198,747.67 198,737 194.4,737 194.4,747.67 194.4,758.33 194.4,769Z" fill="#232323"/><circle cx="196.2" cy="769" r="1.8" fill="#232323"/><circle cx="196.2" cy="737" r="1.8" fill="#232323"/><path d="M197.99,737.18 198.17,734.92 198.6,732.95 199.28,731.14 200.21,729.47 201.4,727.93 202.86,726.51 204.62,725.22 206.67,724.04 209.08,722.98 207.92,720.22 205.33,721.27 202.94,722.55 200.83,724.02 198.99,725.7 197.45,727.58 196.21,729.66 195.29,731.92 194.69,734.35 194.41,736.82Z" fill="#232323"/><circle cx="196.2" cy="737" r="1.8" fill="#232323"/><circle cx="208.5" cy="721.6" r="1.5" fill="#232323"/><path d="M208.93,723.04 217.67,720.37 226.42,717.71 235.17,715.05 234.43,712.55 225.64,715.09 216.86,717.63 208.07,720.16Z" fill="#232323"/><circle cx="208.5" cy="721.6" r="1.5" fill="#232323"/><circle cx="234.8" cy="713.8" r="1.3" fill="#232323"/><path d="M236.14,714.21 238.96,704.88 241.78,695.54 244.61,686.2 247.43,676.86 250.25,667.52 248.15,666.88 245.21,676.18 242.27,685.48 239.34,694.78 236.4,704.08 233.46,713.39Z" fill="#232323"/><circle cx="234.8" cy="713.8" r="1.4" fill="#232323"/><circle cx="249.2" cy="667.2" r="1.1" fill="#232323"/><path d="M250.25,667.53 251.28,664.12 252.51,661.15 253.94,658.59 255.59,656.41 257.44,654.62 259.49,653.19 261.77,652.13 264.28,651.43 267.1,651.09 266.9,649.31 263.94,649.62 261.14,650.36 258.55,651.52 256.2,653.09 254.09,655.07 252.23,657.46 250.63,660.23 249.26,663.38 248.15,666.87Z" fill="#232323"/><circle cx="249.2" cy="667.2" r="1.1" fill="#232323"/><circle cx="267" cy="650.2" r="0.9" fill="#232323"/><path d="M267,651.1 276.9,651.02 286.8,650.94 296.7,650.86 306.6,650.78 316.5,650.7 316.5,649.3 306.6,649.3 296.7,649.3 286.8,649.3 276.9,649.3 267,649.3Z" fill="#232323"/><circle cx="267" cy="650.2" r="0.9" fill="#232323"/><circle cx="316.5" cy="650" r="0.7" fill="#232323"/><path d="M316.34,650.68 317.35,650.89 318.15,651.33 318.86,652.04 319.49,653.06 320.02,654.4 320.42,656.06 320.7,658.06 321.7,657.94 321.49,655.89 321.12,654.09 320.59,652.55 319.88,651.29 318.96,650.3 317.85,649.63 316.66,649.32Z" fill="#232323"/><circle cx="316.5" cy="650" r="0.7" fill="#232323"/><path d="M320.7,658 320.73,672.14 320.76,686.29 320.79,700.43 320.81,714.57 320.84,728.72 320.87,742.86 320.9,757 322.3,757 322.21,742.85 322.13,728.71 322.04,714.57 321.96,700.43 321.87,686.28 321.79,672.14 321.7,658Z" fill="#232323"/><circle cx="321.6" cy="757" r="0.7" fill="#232323"/><path d="M320.91,756.88 320.11,760.66 319.31,764.43 318.52,768.21 320.68,768.59 321.22,764.77 321.75,760.94 322.29,757.12Z" fill="#232323"/><circle cx="321.6" cy="757" r="0.7" fill="#232323"/><circle cx="319.6" cy="768.4" r="1.1" fill="#232323"/><path d="M319.59,767 308.57,767 297.55,767 286.53,767 275.51,767 264.49,767 264.51,770.2 275.53,770.12 286.55,770.04 297.57,769.96 308.59,769.88 319.61,769.8Z" fill="#232323"/><circle cx="319.6" cy="768.4" r="1.4" fill="#232323"/><circle cx="264.5" cy="768.6" r="1.6" fill="#232323"/><path d="M266.2,768.48 265.96,765.23 265.36,761.93 264.41,758.72 263.13,755.62 261.51,752.68 259.59,749.93 257.39,747.4 254.93,745.12 252.24,743.12 249.35,741.41 246.29,740.03 243.1,738.98 239.81,738.28 236.47,737.94 233.11,737.95 229.77,738.33 226.49,739.06 223.31,740.14 220.26,741.56 217.37,743.29 214.69,745.32 212.25,747.63 210.06,750.19 208.16,752.97 206.57,755.94 205.3,759.06 204.38,762.3 203.81,765.62 203.6,768.89 207.2,769.11 207.37,766.03 207.87,763.09 208.67,760.21 209.78,757.44 211.18,754.8 212.86,752.33 214.79,750.04 216.95,747.98 219.33,746.16 221.88,744.61 224.59,743.34 227.42,742.37 230.34,741.7 233.32,741.35 236.31,741.33 239.29,741.62 242.23,742.23 245.08,743.16 247.82,744.38 250.41,745.89 252.82,747.67 255.03,749.7 257.01,751.96 258.74,754.41 260.19,757.04 261.36,759.8 262.22,762.68 262.77,765.64 263,768.72Z" fill="#232323"/><circle cx="264.6" cy="768.6" r="1.6" fill="#232323"/><circle cx="205.4" cy="769" r="1.8" fill="#232323"/><path d="M205.2,767.2 202.2,767.2 199.2,767.2 196.2,767.2 196.2,771.2 199.2,771.2 202.2,771.2 205.2,771.2Z" fill="#232323"/><circle cx="205.2" cy="769.2" r="2" fill="#232323"/><circle cx="196.2" cy="769.2" r="2" fill="#232323"/><path d="M239.79,710 255.11,710.08 270.43,710.16 285.75,710.24 301.07,710.32 316.39,710.4 316.41,707.6 301.09,707.44 285.77,707.28 270.45,707.12 255.13,706.96 239.81,706.8Z" fill="#232323"/><circle cx="239.8" cy="708.4" r="1.6" fill="#232323"/><circle cx="316.4" cy="709" r="1.4" fill="#232323"/><path d="M317.6,708.99 317.34,697.91 317.08,686.83 316.82,675.75 316.56,664.67 316.3,653.6 315.5,653.6 315.44,664.69 315.38,675.77 315.32,686.85 315.26,697.93 315.2,709.01Z" fill="#232323"/><circle cx="316.4" cy="709" r="1.2" fill="#232323"/><path d="M315.9,653.1 306.22,652.96 296.54,652.82 286.86,652.68 277.18,652.54 267.5,652.4 267.5,654.4 277.18,654.34 286.86,654.28 296.54,654.22 306.22,654.16 315.9,654.1Z" fill="#232323"/><circle cx="267.5" cy="653.4" r="1" fill="#232323"/><path d="M267.33,652.41 264.51,652.9 261.85,653.9 259.47,655.41 257.37,657.41 255.57,659.89 254.07,662.82 252.86,666.16 254.74,666.84 255.9,663.62 257.28,660.93 258.88,658.72 260.7,656.98 262.75,655.69 265.03,654.83 267.67,654.39Z" fill="#232323"/><circle cx="267.5" cy="653.4" r="1" fill="#232323"/><circle cx="253.8" cy="666.5" r="1" fill="#232323"/><path d="M252.85,666.18 250.72,672.13 248.58,678.08 246.44,684.03 244.31,689.98 242.17,695.92 240.03,701.87 237.9,707.82 241.3,708.98 243.23,702.96 245.15,696.93 247.07,690.91 248.99,684.89 250.91,678.87 252.83,672.84 254.75,666.82Z" fill="#232323"/><circle cx="253.8" cy="666.5" r="1" fill="#232323"/><circle cx="239.6" cy="708.4" r="1.8" fill="#232323"/><path d="M235.56,744.4 238.24,744.57 240.83,745.02 243.37,745.75 245.8,746.74 248.12,748 250.28,749.49 252.26,751.21 254.05,753.13 255.62,755.23 256.94,757.48 258.02,759.87 258.83,762.35 259.37,764.9 259.63,767.5 259.6,770.1 259.3,772.68 258.72,775.22 257.86,777.67 256.75,780.01 255.4,782.22 253.81,784.27 252.01,786.13 250.03,787.78 247.88,789.21 245.59,790.4 243.19,791.33 240.71,791.99 238.17,792.39 235.52,792.5 235.68,795.5 238.48,795.32 241.33,794.83 244.1,794.03 246.77,792.94 249.3,791.57 251.67,789.94 253.85,788.06 255.8,785.96 257.52,783.66 258.98,781.19 260.16,778.58 261.05,775.87 261.64,773.07 261.92,770.23 261.9,767.37 261.57,764.54 260.93,761.77 260,759.08 258.78,756.51 257.3,754.09 255.56,751.84 253.6,749.8 251.42,747.99 249.07,746.42 246.56,745.12 243.92,744.09 241.2,743.36 238.41,742.93 235.64,742.8Z" fill="#232323"/><circle cx="235.6" cy="743.6" r="0.8" fill="#232323"/><circle cx="235.6" cy="794" r="1.5" fill="#232323"/><path d="M235.68,792.5 233.04,792.38 230.5,791.99 228.01,791.32 225.61,790.38 223.33,789.2 221.18,787.77 219.2,786.11 217.41,784.25 215.83,782.2 214.48,780 213.37,777.66 212.52,775.21 211.95,772.68 211.65,770.1 211.62,767.5 211.89,764.91 212.42,762.37 213.24,759.89 214.31,757.51 215.64,755.27 217.21,753.18 218.99,751.26 220.97,749.55 223.13,748.07 225.43,746.82 227.86,745.83 230.39,745.11 232.97,744.66 235.65,744.5 235.55,742.7 232.78,742.83 229.98,743.27 227.25,744.01 224.61,745.04 222.09,746.35 219.73,747.92 217.55,749.75 215.58,751.8 213.84,754.05 212.36,756.48 211.14,759.06 210.21,761.75 209.58,764.53 209.25,767.37 209.23,770.23 209.52,773.08 210.11,775.88 211.01,778.6 212.19,781.21 213.65,783.68 215.38,785.98 217.34,788.08 219.52,789.96 221.89,791.59 224.42,792.96 227.09,794.04 229.87,794.84 232.72,795.32 235.52,795.5Z" fill="#232323"/><circle cx="235.6" cy="794" r="1.5" fill="#232323"/><circle cx="235.6" cy="743.6" r="0.9" fill="#232323"/><path d="M212.75,764.03 213.15,761.15 213.9,758.36 215,755.68 216.43,753.16 218.17,750.84 220.18,748.76 222.44,746.95 224.91,745.44 227.56,744.26 230.32,743.41 233.18,742.92 236.07,742.8 238.96,743.04 241.79,743.64 244.52,744.59 247.11,745.88 249.52,747.49 251.71,749.39 253.64,751.54 255.28,753.93 256.61,756.5 257.61,759.22 258.26,762.06 258.74,761.94 258.09,759.08 257.07,756.3 255.71,753.67 254.03,751.23 252.06,749.03 249.83,747.09 247.36,745.45 244.72,744.13 241.92,743.16 239.03,742.54 236.08,742.3 233.12,742.43 230.21,742.93 227.38,743.79 224.68,745 222.16,746.55 219.85,748.39 217.79,750.52 216.02,752.89 214.55,755.46 213.43,758.2 212.66,761.05 212.25,763.97Z" fill="#232323"/><path d="M234.99,753.8 237.01,753.88 238.9,754.23 240.73,754.83 242.47,755.67 244.09,756.75 245.54,758.05 246.81,759.53 247.87,761.18 248.7,762.97 249.28,764.85 249.59,766.81 249.64,768.79 249.42,770.77 248.92,772.71 248.17,774.57 247.16,776.31 245.93,777.91 244.48,779.33 242.85,780.54 241.06,781.52 239.15,782.25 237.15,782.71 235.07,782.9 235.13,783.9 237.3,783.8 239.47,783.4 241.57,782.7 243.56,781.72 245.41,780.47 247.08,778.98 248.53,777.28 249.73,775.38 250.68,773.34 251.33,771.17 251.69,768.93 251.74,766.66 251.47,764.4 250.9,762.18 250.03,760.06 248.88,758.07 247.46,756.26 245.8,754.64 243.94,753.27 241.9,752.16 239.71,751.33 237.44,750.81 235.21,750.6Z" fill="#232323"/><circle cx="235.1" cy="752.2" r="1.6" fill="#232323"/><path d="M235.13,782.9 233.05,782.71 231.05,782.25 229.14,781.52 227.35,780.54 225.72,779.33 224.27,777.91 223.04,776.31 222.03,774.57 221.28,772.71 220.78,770.77 220.56,768.79 220.61,766.81 220.92,764.85 221.5,762.97 222.33,761.18 223.39,759.53 224.66,758.05 226.11,756.75 227.73,755.67 229.47,754.83 231.3,754.23 233.19,753.88 235.21,753.8 234.99,750.6 232.76,750.81 230.49,751.33 228.3,752.16 226.26,753.27 224.4,754.64 222.74,756.26 221.32,758.07 220.17,760.06 219.3,762.18 218.73,764.4 218.46,766.66 218.51,768.93 218.87,771.17 219.52,773.34 220.47,775.38 221.67,777.28 223.12,778.98 224.79,780.47 226.64,781.72 228.63,782.7 230.73,783.4 232.9,783.8 235.07,783.9Z" fill="#232323"/><circle cx="235.1" cy="752.2" r="1.6" fill="#232323"/><path d="M235.1 764.2 C233.6 768.2 230.9 772.2 231.1 775.2 C231.5 779.8 238.7 779.8 239.1 775.2 C239.3 772.2 236.6 768.2 235.1 764.2 Z" fill="#232323"/><path d="M235.3 768.7 L235.3 775.7" stroke="#fff" stroke-width="0.9" stroke-linecap="round"/><path d="M321.7,637 321.71,651.86 321.73,666.71 321.74,681.57 321.76,696.43 321.77,711.29 321.79,726.14 321.8,741 324.4,741 324.41,726.14 324.43,711.29 324.44,696.43 324.46,681.57 324.47,666.71 324.49,651.86 324.5,637Z" fill="#232323"/><circle cx="323.1" cy="637" r="1.4" fill="#232323"/><circle cx="323.1" cy="741" r="1.3" fill="#232323"/><path d="M324.5,637.11 324.68,634.81 325.16,633.06 325.9,631.73 326.89,630.73 328.2,630 329.89,629.55 332.12,629.4 331.88,626.4 329.39,626.62 327.08,627.28 325.12,628.42 323.57,630.02 322.49,632.02 321.88,634.36 321.7,636.89Z" fill="#232323"/><circle cx="323.1" cy="637" r="1.4" fill="#232323"/><circle cx="332" cy="627.9" r="1.5" fill="#232323"/><path d="M332,629.4 349.92,629.44 367.84,629.48 385.76,629.52 403.68,629.56 421.6,629.6 421.6,626.4 403.68,626.4 385.76,626.4 367.84,626.4 349.92,626.4 332,626.4Z" fill="#232323"/><circle cx="332" cy="627.9" r="1.5" fill="#232323"/><circle cx="421.6" cy="628" r="1.6" fill="#232323"/><path d="M420.09,628.53 421.72,632.89 423.34,637.26 424.97,641.63 427.43,640.77 425.99,636.34 424.55,631.91 423.11,627.47Z" fill="#232323"/><circle cx="421.6" cy="628" r="1.6" fill="#232323"/><circle cx="426.2" cy="641.2" r="1.3" fill="#232323"/><path d="M321.83,741.27 322.38,743.22 323.26,745.01 324.46,746.48 325.96,747.63 327.72,748.43 329.72,748.92 331.93,749.1 332.07,748.1 329.99,747.68 328.29,747.04 326.93,746.19 325.89,745.17 325.13,743.95 324.63,742.51 324.37,740.73Z" fill="#232323"/><circle cx="323.1" cy="741" r="1.3" fill="#232323"/><path d="M333.02,749.2 349.06,748.79 365.11,748.37 381.15,747.96 397.2,747.54 413.24,747.13 429.29,746.71 445.33,746.3 445.27,744.1 429.23,744.66 413.19,745.21 397.14,745.77 381.1,746.33 365.06,746.89 349.02,747.44 332.98,748Z" fill="#232323"/><circle cx="445.3" cy="745.2" r="1.1" fill="#232323"/><path d="M445.87,746.14 449.54,743.91 453.21,741.67 456.87,739.44 455.73,737.56 452.06,739.79 448.39,742.03 444.73,744.26Z" fill="#232323"/><circle cx="445.3" cy="745.2" r="1.1" fill="#232323"/><circle cx="456.3" cy="738.5" r="1.1" fill="#232323"/><path d="M343.95,735.5 344.14,722.17 344.34,708.84 344.53,695.51 344.72,682.19 344.91,668.86 345.11,655.53 345.3,642.2 342.1,642.2 342.29,655.53 342.49,668.86 342.68,682.19 342.87,695.51 343.06,708.84 343.26,722.17 343.45,735.5Z" fill="#232323"/><circle cx="343.7" cy="642.2" r="1.6" fill="#232323"/><path d="M345.29,642.38 345.3,642.16 345.22,642.32 345.02,642.52 344.86,642.6 345.08,642.59 344.72,639.41 344.08,639.5 343.24,639.86 342.56,640.54 342.2,641.38 342.11,642.02Z" fill="#232323"/><circle cx="343.7" cy="642.2" r="1.6" fill="#232323"/><circle cx="344.9" cy="641" r="1.6" fill="#232323"/><path d="M344.9,642.6 348.27,642.6 351.63,642.6 355,642.6 355,639.4 351.63,639.4 348.27,639.4 344.9,639.4Z" fill="#232323"/><circle cx="344.9" cy="641" r="1.6" fill="#232323"/><circle cx="355" cy="641" r="1.6" fill="#232323"/><path d="M354.82,642.59 355.04,642.6 354.88,642.52 354.68,642.32 354.6,642.16 354.61,642.38 357.79,642.02 357.7,641.38 357.34,640.54 356.66,639.86 355.82,639.5 355.18,639.41Z" fill="#232323"/><circle cx="355" cy="641" r="1.6" fill="#232323"/><circle cx="356.2" cy="642.2" r="1.6" fill="#232323"/><path d="M354.6,642.19 354.71,655.52 354.81,668.85 354.92,682.18 355.03,695.51 355.14,708.84 355.24,722.17 355.35,735.5 355.85,735.5 356.13,722.17 356.41,708.85 356.69,695.52 356.96,682.19 357.24,668.86 357.52,655.54 357.8,642.21Z" fill="#232323"/><circle cx="356.2" cy="642.2" r="1.6" fill="#232323"/><path d="M343.7,735.8 347.67,735.8 351.63,735.8 355.6,735.8 355.6,735.2 351.63,735.2 347.67,735.2 343.7,735.2Z" fill="#232323"/><path d="M370.85,735.5 371.04,722.77 371.24,710.04 371.43,697.31 371.62,684.59 371.81,671.86 372.01,659.13 372.2,646.4 369,646.4 369.19,659.13 369.39,671.86 369.58,684.59 369.77,697.31 369.96,710.04 370.16,722.77 370.35,735.5Z" fill="#232323"/><circle cx="370.6" cy="646.4" r="1.6" fill="#232323"/><path d="M372.19,646.58 372.35,644.99 372.73,644.09 373.29,643.53 374.19,643.15 375.78,642.99 375.42,639.81 373.41,640.05 371.51,640.87 370.07,642.31 369.25,644.21 369.01,646.22Z" fill="#232323"/><circle cx="370.6" cy="646.4" r="1.6" fill="#232323"/><circle cx="375.6" cy="641.4" r="1.6" fill="#232323"/><path d="M375.6,643 377.3,643 379,643 380.7,643 380.7,639.8 379,639.8 377.3,639.8 375.6,639.8Z" fill="#232323"/><circle cx="375.6" cy="641.4" r="1.6" fill="#232323"/><circle cx="380.7" cy="641.4" r="1.6" fill="#232323"/><path d="M380.52,642.99 381.25,643.06 381.48,643.15 381.55,643.22 381.64,643.45 381.71,644.18 384.89,643.82 384.75,642.68 384.22,641.45 383.25,640.48 382.02,639.95 380.88,639.81Z" fill="#232323"/><circle cx="380.7" cy="641.4" r="1.6" fill="#232323"/><circle cx="383.3" cy="644" r="1.6" fill="#232323"/><path d="M381.7,643.99 381.81,657.06 381.91,670.13 382.02,683.21 382.13,696.28 382.24,709.35 382.34,722.43 382.45,735.5 382.95,735.5 383.23,722.43 383.51,709.36 383.79,696.29 384.06,683.22 384.34,670.15 384.62,657.08 384.9,644.01Z" fill="#232323"/><circle cx="383.3" cy="644" r="1.6" fill="#232323"/><path d="M370.6,735.8 374.63,735.8 378.67,735.8 382.7,735.8 382.7,735.2 378.67,735.2 374.63,735.2 370.6,735.2Z" fill="#232323"/><path d="M399.25,735.5 399.44,722.54 399.64,709.59 399.83,696.63 400.02,683.67 400.21,670.71 400.41,657.76 400.6,644.8 397.4,644.8 397.59,657.76 397.79,670.71 397.98,683.67 398.17,696.63 398.36,709.59 398.56,722.54 398.75,735.5Z" fill="#232323"/><circle cx="399" cy="644.8" r="1.6" fill="#232323"/><path d="M400.59,644.98 400.7,643.82 400.94,643.26 401.26,642.94 401.82,642.7 402.98,642.59 402.62,639.41 401.04,639.6 399.48,640.28 398.28,641.48 397.6,643.04 397.41,644.62Z" fill="#232323"/><circle cx="399" cy="644.8" r="1.6" fill="#232323"/><circle cx="402.8" cy="641" r="1.6" fill="#232323"/><path d="M402.8,642.6 404.93,642.6 407.07,642.6 409.2,642.6 409.2,639.4 407.07,639.4 404.93,639.4 402.8,639.4Z" fill="#232323"/><circle cx="402.8" cy="641" r="1.6" fill="#232323"/><circle cx="409.2" cy="641" r="1.6" fill="#232323"/><path d="M409.02,642.59 409.82,642.66 410.1,642.78 410.22,642.9 410.34,643.18 410.41,643.98 413.59,643.62 413.44,642.4 412.88,641.12 411.88,640.12 410.6,639.56 409.38,639.41Z" fill="#232323"/><circle cx="409.2" cy="641" r="1.6" fill="#232323"/><circle cx="412" cy="643.8" r="1.6" fill="#232323"/><path d="M410.4,643.79 410.51,656.89 410.61,669.99 410.72,683.09 410.83,696.19 410.94,709.3 411.04,722.4 411.15,735.5 411.65,735.5 411.93,722.4 412.21,709.3 412.49,696.21 412.76,683.11 413.04,670.01 413.32,656.91 413.6,643.81Z" fill="#232323"/><circle cx="412" cy="643.8" r="1.6" fill="#232323"/><path d="M399,735.8 403.13,735.8 407.27,735.8 411.4,735.8 411.4,735.2 407.27,735.2 403.13,735.2 399,735.2Z" fill="#232323"/><path d="M424,643 423.99,656.14 423.97,669.29 423.96,682.43 423.94,695.57 423.93,708.71 423.91,721.86 423.9,735 426.5,735 426.49,721.86 426.47,708.71 426.46,695.57 426.44,682.43 426.43,669.29 426.41,656.14 426.4,643Z" fill="#232323"/><circle cx="425.2" cy="643" r="1.2" fill="#232323"/><circle cx="425.2" cy="735" r="1.3" fill="#232323"/><path d="M425.2,737 438,737.1 438,734.1 425.2,734.2Z" fill="#232323"/><circle cx="425.2" cy="735.6" r="1.4" fill="#232323"/><circle cx="438" cy="735.6" r="1.5" fill="#232323"/><path d="M439.5,735.6 439.5,679 436.5,679 436.5,735.6Z" fill="#232323"/><circle cx="438" cy="735.6" r="1.5" fill="#232323"/><circle cx="438" cy="679" r="1.5" fill="#232323"/><path d="M436.36,679 438.34,684.81 440.31,690.63 442.29,696.44 444.26,702.26 446.23,708.07 448.21,713.89 450.18,719.7 451.42,719.3 449.62,713.43 447.82,707.56 446.03,701.69 444.23,695.81 442.43,689.94 440.63,684.07 438.84,678.2Z" fill="#232323"/><circle cx="437.6" cy="678.6" r="1.3" fill="#232323"/><circle cx="450.8" cy="719.5" r="0.65" fill="#232323"/><path d="M450.15,719.51 450.2,734.61 451.8,734.59 451.45,719.49Z" fill="#232323"/><circle cx="450.8" cy="719.5" r="0.65" fill="#232323"/><circle cx="451" cy="734.6" r="0.8" fill="#232323"/><path d="M450.92,735.4 455.1,736.1 455.3,733.9 451.08,733.8Z" fill="#232323"/><circle cx="451" cy="734.6" r="0.8" fill="#232323"/><circle cx="455.2" cy="735" r="1.1" fill="#232323"/><path d="M454.16,735.35 455.06,738.38 457.34,737.62 456.24,734.65Z" fill="#232323"/><circle cx="455.2" cy="735" r="1.1" fill="#232323"/><circle cx="456.2" cy="738" r="1.2" fill="#232323"/><path d="M324.8,757 324.8,760.9 324.8,764.8 324.8,768.7 324.8,772.6 324.8,776.5 327.6,776.5 327.6,772.6 327.6,768.7 327.6,764.8 327.6,760.9 327.6,757Z" fill="#232323"/><circle cx="326.2" cy="757" r="1.4" fill="#232323"/><circle cx="326.2" cy="776.5" r="1.4" fill="#232323"/><path d="M324.82,776.73 325.12,778.47 325.95,780.1 327.3,781.31 329.02,781.99 330.86,782.19 331.14,779.41 329.65,779.26 328.75,778.91 328.18,778.41 327.79,777.63 327.58,776.27Z" fill="#232323"/><circle cx="326.2" cy="776.5" r="1.4" fill="#232323"/><circle cx="331" cy="780.8" r="1.4" fill="#232323"/><path d="M330.98,782.2 340.86,782.28 350.74,782.36 360.62,782.44 370.5,782.52 380.38,782.6 380.42,780.4 370.54,780.2 360.66,780 350.78,779.8 340.9,779.6 331.02,779.4Z" fill="#232323"/><circle cx="331" cy="780.8" r="1.4" fill="#232323"/><circle cx="380.4" cy="781.5" r="1.1" fill="#232323"/><path d="M381.2,781.5 381.08,776.7 380.96,771.9 380.84,767.1 380.72,762.3 380.6,757.5 380,757.5 379.92,762.3 379.84,767.1 379.76,771.9 379.68,776.7 379.6,781.5Z" fill="#232323"/><circle cx="380.4" cy="781.5" r="0.8" fill="#232323"/><path d="M380.64,757.44 380.36,755.95 379.75,754.73 378.8,753.84 377.54,753.32 376.04,753.15 375.96,753.85 377.37,754 378.42,754.44 379.19,755.15 379.7,756.17 379.96,757.56Z" fill="#232323"/><path d="M376,753.1 367,753.1 358,753.1 349,753.1 340,753.1 331,753.1 331,754.5 340,754.38 349,754.26 358,754.14 367,754.02 376,753.9Z" fill="#232323"/><circle cx="331" cy="753.8" r="0.7" fill="#232323"/><path d="M330.89,753.01 329.07,753.12 327.43,753.66 326.09,754.69 325.21,756.17 324.82,757.79 327.58,758.21 327.64,756.94 327.94,756.13 328.52,755.48 329.54,754.95 331.11,754.59Z" fill="#232323"/><circle cx="331" cy="753.8" r="0.8" fill="#232323"/><circle cx="326.2" cy="758" r="1.4" fill="#232323"/><path d="M387.22,760.7 395.2,760.16 403.18,759.61 411.16,759.07 419.14,758.53 427.11,757.98 435.09,757.44 443.07,756.9 442.93,755.1 434.96,755.82 427,756.53 419.04,757.24 411.07,757.96 403.11,758.67 395.14,759.39 387.18,760.1Z" fill="#232323"/><circle cx="443" cy="756" r="0.9" fill="#232323"/><path d="M387.13,760.79 394.66,762.18 402.18,763.56 409.7,764.95 417.22,766.33 424.74,767.71 432.26,769.1 439.79,770.48 440.21,767.92 432.65,766.79 425.09,765.66 417.52,764.53 409.96,763.4 402.39,762.27 394.83,761.14 387.27,760.01Z" fill="#232323"/><circle cx="440" cy="769.2" r="1.3" fill="#232323"/><path d="M441.83,755.73 440.8,760.13 439.76,764.52 438.73,768.91 441.27,769.49 442.24,765.08 443.2,760.67 444.17,756.27Z" fill="#232323"/><circle cx="443" cy="756" r="1.2" fill="#232323"/><circle cx="440" cy="769.2" r="1.3" fill="#232323"/><path d="M424.97,620.95 429.11,634.16 433.25,647.37 437.4,660.58 441.54,673.79 445.68,687.01 449.83,700.22 453.97,713.43 458.11,726.64 462.25,739.86 464.55,739.14 460.47,725.91 456.39,712.68 452.31,699.45 448.23,686.22 444.15,672.98 440.07,659.75 435.99,646.52 431.91,633.29 427.83,620.05Z" fill="#232323"/><circle cx="426.4" cy="620.5" r="1.5" fill="#232323"/><circle cx="463.4" cy="739.5" r="1.2" fill="#232323"/><path d="M427.9,620.43 427.76,619.46 427.85,619.41 429.29,619.17 428.71,616.23 426.55,616.71 424.91,618.52 424.9,620.57Z" fill="#232323"/><circle cx="426.4" cy="620.5" r="1.5" fill="#232323"/><circle cx="429" cy="617.7" r="1.5" fill="#232323"/><path d="M429,619.2 438.53,619.2 448.07,619.2 457.6,619.2 457.6,616.2 448.07,616.2 438.53,616.2 429,616.2Z" fill="#232323"/><circle cx="429" cy="617.7" r="1.5" fill="#232323"/><circle cx="457.6" cy="617.7" r="1.5" fill="#232323"/><path d="M456.16,618.12 459.2,628.45 462.25,638.78 465.29,649.11 468.33,659.44 471.38,669.77 474.42,680.1 477.46,690.42 480.34,689.58 477.3,679.25 474.25,668.92 471.21,658.59 468.17,648.26 465.12,637.93 462.08,627.6 459.04,617.28Z" fill="#232323"/><circle cx="457.6" cy="617.7" r="1.5" fill="#232323"/><circle cx="478.9" cy="690" r="1.5" fill="#232323"/><path d="M477.49,690.5 480.85,699.56 484.21,708.62 487.57,717.68 490.94,726.75 494.3,735.81 497.66,744.87 501.02,753.93 501.78,753.67 498.71,744.5 495.65,735.33 492.58,726.17 489.51,717 486.45,707.83 483.38,698.67 480.31,689.5Z" fill="#232323"/><circle cx="478.9" cy="690" r="1.5" fill="#232323"/><path d="M468.75,629.9 471.18,638.54 473.61,647.17 476.04,655.81 478.46,664.44 480.89,673.08 483.32,681.71 485.75,690.35 488.25,689.65 485.88,681 483.51,672.35 481.14,663.7 478.76,655.05 476.39,646.4 474.02,637.75 471.65,629.1Z" fill="#232323"/><circle cx="470.2" cy="629.5" r="1.5" fill="#232323"/><circle cx="487" cy="690" r="1.3" fill="#232323"/><path d="M485.75,690.35 488.29,698.96 490.84,707.58 493.38,716.2 495.93,724.82 498.47,733.43 501.01,742.05 503.56,750.67 504.04,750.53 501.79,741.84 499.53,733.14 497.27,724.44 495.02,715.74 492.76,707.05 490.51,698.35 488.25,689.65Z" fill="#232323"/><circle cx="487" cy="690" r="1.3" fill="#232323"/><path d="M471.69,629.69 471.34,629.86 471.6,629.85 473.03,629.81 475.08,630.14 477.43,630.94 479.84,632.25 482.07,634.13 483.93,636.64 485.31,640.06 488.09,638.94 486.56,635.19 484.26,632.09 481.54,629.78 478.65,628.2 475.82,627.24 473.26,626.82 471.1,626.89 469.24,627.72 468.71,629.31Z" fill="#232323"/><circle cx="470.2" cy="629.5" r="1.5" fill="#232323"/><circle cx="486.7" cy="639.5" r="1.5" fill="#232323"/><path d="M485.25,639.89 488.3,650.75 491.36,661.61 494.41,672.47 497.46,683.33 500.51,694.19 503.56,705.05 506.61,715.91 509.67,726.77 512.72,737.63 513.68,737.37 510.85,726.45 508.01,715.53 505.17,704.62 502.33,693.7 499.5,682.78 496.66,671.86 493.82,660.94 490.99,650.03 488.15,639.11Z" fill="#232323"/><circle cx="486.7" cy="639.5" r="1.5" fill="#232323"/><path d="M512.8,737.55 513.2,740.35 513.04,742.79 512.32,744.9 511.05,746.72 509.2,748.25 506.77,749.48 503.74,750.41 503.86,750.79 506.94,749.91 509.48,748.69 511.47,747.12 512.88,745.19 513.71,742.92 513.94,740.33 513.6,737.45Z" fill="#232323"/><path d="M463.58,740.89 465.76,740.58 467.9,740.45 470.05,740.49 472.18,740.69 474.3,741.06 476.39,741.6 478.43,742.29 480.41,743.14 482.31,744.15 484.14,745.3 485.87,746.59 487.5,748.01 489.02,749.55 490.41,751.21 491.67,752.98 492.78,754.83 493.76,756.77 494.57,758.79 495.24,760.89 497.16,760.31 496.5,758.11 495.66,755.93 494.66,753.83 493.49,751.8 492.17,749.88 490.7,748.06 489.09,746.35 487.36,744.78 485.51,743.35 483.54,742.06 481.49,740.93 479.35,739.96 477.14,739.16 474.87,738.54 472.56,738.09 470.22,737.82 467.87,737.74 465.51,737.84 463.22,738.11Z" fill="#232323"/><circle cx="463.4" cy="739.5" r="1.4" fill="#232323"/><circle cx="496.2" cy="760.6" r="1" fill="#232323"/><path d="M468.96,743.7 471.64,743.87 474.23,744.32 476.77,745.05 479.2,746.04 481.52,747.3 483.68,748.79 485.66,750.51 487.45,752.43 489.02,754.53 490.34,756.78 491.42,759.17 492.23,761.65 492.77,764.2 493.03,766.8 493,769.4 492.7,771.98 492.12,774.52 491.26,776.97 490.15,779.31 488.8,781.52 487.21,783.57 485.41,785.43 483.43,787.08 481.28,788.51 478.99,789.7 476.59,790.63 474.11,791.29 471.57,791.69 468.92,791.8 469.08,794.8 471.88,794.62 474.73,794.13 477.5,793.33 480.17,792.24 482.7,790.87 485.07,789.24 487.25,787.36 489.2,785.26 490.92,782.96 492.38,780.49 493.56,777.88 494.45,775.17 495.04,772.37 495.32,769.53 495.3,766.67 494.97,763.84 494.33,761.07 493.4,758.38 492.18,755.81 490.7,753.39 488.96,751.14 487,749.1 484.82,747.29 482.47,745.72 479.96,744.42 477.32,743.39 474.6,742.66 471.81,742.23 469.04,742.1Z" fill="#232323"/><circle cx="469" cy="742.9" r="0.8" fill="#232323"/><circle cx="469" cy="793.3" r="1.5" fill="#232323"/><path d="M469.08,791.8 466.44,791.68 463.9,791.29 461.41,790.62 459.01,789.68 456.73,788.5 454.58,787.07 452.6,785.41 450.81,783.55 449.23,781.5 447.88,779.3 446.77,776.96 445.92,774.51 445.35,771.98 445.05,769.4 445.02,766.8 445.29,764.21 445.82,761.67 446.64,759.19 447.71,756.81 449.04,754.57 450.61,752.48 452.39,750.56 454.37,748.85 456.53,747.37 458.83,746.12 461.26,745.13 463.79,744.41 466.37,743.96 469.05,743.8 468.95,742 466.18,742.13 463.38,742.57 460.65,743.31 458.01,744.34 455.49,745.65 453.13,747.22 450.95,749.05 448.98,751.1 447.24,753.35 445.76,755.78 444.54,758.36 443.61,761.05 442.98,763.83 442.65,766.67 442.63,769.53 442.92,772.38 443.51,775.18 444.41,777.9 445.59,780.51 447.05,782.98 448.78,785.28 450.74,787.38 452.92,789.26 455.29,790.89 457.82,792.26 460.49,793.34 463.27,794.14 466.12,794.62 468.92,794.8Z" fill="#232323"/><circle cx="469" cy="793.3" r="1.5" fill="#232323"/><circle cx="469" cy="742.9" r="0.9" fill="#232323"/><path d="M467.89,753.8 469.91,753.88 471.8,754.23 473.63,754.83 475.37,755.67 476.99,756.75 478.44,758.05 479.71,759.53 480.77,761.18 481.6,762.97 482.18,764.85 482.49,766.81 482.54,768.79 482.32,770.77 481.82,772.71 481.07,774.57 480.06,776.31 478.83,777.91 477.38,779.33 475.75,780.54 473.96,781.52 472.05,782.25 470.05,782.71 467.97,782.9 468.03,783.9 470.2,783.8 472.37,783.4 474.47,782.7 476.46,781.72 478.31,780.47 479.98,778.98 481.43,777.28 482.63,775.38 483.58,773.34 484.23,771.17 484.59,768.93 484.64,766.66 484.37,764.4 483.8,762.18 482.93,760.06 481.78,758.07 480.36,756.26 478.7,754.64 476.84,753.27 474.8,752.16 472.61,751.33 470.34,750.81 468.11,750.6Z" fill="#232323"/><circle cx="468" cy="752.2" r="1.6" fill="#232323"/><path d="M468.03,782.9 465.95,782.71 463.95,782.25 462.04,781.52 460.25,780.54 458.62,779.33 457.17,777.91 455.94,776.31 454.93,774.57 454.18,772.71 453.68,770.77 453.46,768.79 453.51,766.81 453.82,764.85 454.4,762.97 455.23,761.18 456.29,759.53 457.56,758.05 459.01,756.75 460.63,755.67 462.37,754.83 464.2,754.23 466.09,753.88 468.11,753.8 467.89,750.6 465.66,750.81 463.39,751.33 461.2,752.16 459.16,753.27 457.3,754.64 455.64,756.26 454.22,758.07 453.07,760.06 452.2,762.18 451.63,764.4 451.36,766.66 451.41,768.93 451.77,771.17 452.42,773.34 453.37,775.38 454.57,777.28 456.02,778.98 457.69,780.47 459.54,781.72 461.53,782.7 463.63,783.4 465.8,783.8 467.97,783.9Z" fill="#232323"/><circle cx="468" cy="752.2" r="1.6" fill="#232323"/><path d="M468.1 764.4 C466.6 768.4 463.9 772.4 464.1 775.4 C464.5 780 471.7 780 472.1 775.4 C472.3 772.4 469.6 768.4 468.1 764.4 Z" fill="#232323"/><path d="M468.3 768.9 L468.3 775.9" stroke="#fff" stroke-width="0.9" stroke-linecap="round"/><path d="M495.75,763.37 501,764.69 506.25,766.01 511.5,767.33 516.75,768.65 522,769.97 522.4,768.43 517.17,767.03 511.94,765.63 506.71,764.23 501.48,762.83 496.25,761.43Z" fill="#232323"/><circle cx="496" cy="762.4" r="1" fill="#232323"/><circle cx="522.2" cy="769.2" r="0.8" fill="#232323"/><path d="M523,769.2 522.93,764.87 522.87,760.53 522.8,756.2 521.6,756.2 521.53,760.53 521.47,764.87 521.4,769.2Z" fill="#232323"/><circle cx="522.2" cy="769.2" r="0.8" fill="#232323"/><path d="M522.22,755.8 517.48,755.63 512.75,755.47 508.01,755.3 507.99,755.9 512.72,756.13 517.45,756.37 522.18,756.6Z" fill="#232323"/><path d="M935.4,631.5 935.45,627.23 936.07,623.4 937.21,619.95 938.8,616.83 940.82,614.02 943.21,611.47 945.93,609.17 948.93,607.07 952.17,605.15 955.6,603.4 959.17,601.77 962.83,600.24 966.54,598.79 965.46,596.21 961.79,597.82 958.13,599.52 954.54,601.33 951.09,603.28 947.81,605.4 944.76,607.72 942,610.26 939.59,613.05 937.57,616.12 936.01,619.48 934.97,623.16 934.48,627.17 934.6,631.5Z" fill="#232323"/><circle cx="966" cy="597.5" r="1.4" fill="#232323"/><path d="M966.5,598.81 970.32,597.36 974.2,596.02 978.15,594.8 982.15,593.74 986.21,592.84 990.32,592.15 994.48,591.69 998.68,591.49 1002.93,591.56 1007.22,591.94 1011.55,592.66 1015.91,593.73 1020.31,595.19 1024.74,597.07 1029.27,599.42 1030.73,596.58 1026.09,594.2 1021.41,592.25 1016.76,590.74 1012.16,589.64 1007.6,588.91 1003.08,588.54 998.63,588.48 994.23,588.73 989.9,589.23 985.64,589.97 981.46,590.92 977.34,592.04 973.31,593.32 969.36,594.71 965.5,596.19Z" fill="#232323"/><circle cx="966" cy="597.5" r="1.4" fill="#232323"/><circle cx="1030" cy="598" r="1.6" fill="#232323"/><path d="M1029.46,599.51 1034.55,601.34 1039.76,602.98 1045.02,604.45 1050.31,605.76 1055.57,606.94 1060.79,608 1065.92,608.97 1070.93,609.87 1075.78,610.72 1080.43,611.53 1084.85,612.33 1088.99,613.15 1092.83,613.98 1096.31,614.86 1099.45,615.82 1100.55,612.18 1097.3,611.22 1093.67,610.34 1089.73,609.51 1085.51,608.72 1081.05,607.95 1076.38,607.17 1071.54,606.37 1066.55,605.51 1061.45,604.59 1056.28,603.58 1051.07,602.46 1045.86,601.22 1040.68,599.82 1035.57,598.26 1030.54,596.49Z" fill="#232323"/><circle cx="1030" cy="598" r="1.6" fill="#232323"/><circle cx="1100" cy="614" r="1.9" fill="#232323"/><path d="M1099.36,615.79 1102.47,616.92 1105.31,618.13 1107.91,619.42 1110.29,620.8 1112.44,622.27 1114.37,623.81 1116.07,625.43 1117.55,627.13 1118.82,628.91 1119.88,630.77 1120.77,632.81 1124.43,631.19 1123.43,628.97 1122.15,626.76 1120.64,624.67 1118.9,622.7 1116.93,620.85 1114.75,619.12 1112.35,617.51 1109.73,616.01 1106.9,614.63 1103.86,613.36 1100.64,612.21Z" fill="#232323"/><circle cx="1100" cy="614" r="1.9" fill="#232323"/><circle cx="1122.6" cy="632" r="2" fill="#232323"/><path d="M916.8,634.8 950,634.9 980.01,634.8 1005.02,634.7 1035.02,635.9 1059.96,636.5 1099.93,636.6 1130.92,637.05 1131.08,632.75 1100.07,631 1060.04,629.9 1034.98,630.3 1004.98,632.5 979.99,633.2 950,633.7 916.8,634Z" fill="#232323"/><circle cx="1131" cy="634.9" r="2.15" fill="#232323"/><path d="M934.49,632.1 969.99,632.9 999.99,633.4 1000.01,631.4 970.01,631.5 934.51,631.1Z" fill="#232323"/><circle cx="1000" cy="632.4" r="1" fill="#232323"/><path d="M1130.73,637.03 1132.34,637.21 1133.18,637.55 1133.67,638 1134.02,638.76 1134.22,640.28 1138.38,639.72 1138.09,637.63 1137.14,635.56 1135.51,633.98 1133.41,633.07 1131.27,632.77Z" fill="#232323"/><circle cx="1131" cy="634.9" r="2.15" fill="#232323"/><circle cx="1136.3" cy="640" r="2.1" fill="#232323"/><path d="M1134.2,640 1134.2,642 1134.2,644 1134.2,646 1138.4,646 1138.4,644 1138.4,642 1138.4,640Z" fill="#232323"/><circle cx="1136.3" cy="640" r="2.1" fill="#232323"/><circle cx="1136.3" cy="646" r="2.1" fill="#232323"/><path d="M1134.22,645.71 1134.14,646.93 1133.95,647.48 1133.67,647.82 1133.08,648.12 1131.81,648.31 1132.19,651.89 1133.96,651.75 1135.74,651.06 1137.18,649.77 1138.05,648.03 1138.38,646.29Z" fill="#232323"/><circle cx="1136.3" cy="646" r="2.1" fill="#232323"/><circle cx="1132" cy="650.1" r="1.8" fill="#232323"/><path d="M1131.99,648.3 1108.77,648.53 1085.55,648.77 1062.33,649 1039.11,649.23 1015.89,649.47 992.66,649.7 969.44,649.93 946.22,650.17 923,650.4 923,651.2 946.22,651.28 969.45,651.36 992.67,651.43 1015.89,651.51 1039.12,651.59 1062.34,651.67 1085.56,651.74 1108.78,651.82 1132.01,651.9Z" fill="#232323"/><circle cx="1132" cy="650.1" r="1.8" fill="#232323"/><path d="M916.2,634.61 916.31,637.59 916.42,640.57 916.53,643.55 916.64,646.53 916.75,649.51 917.25,649.49 917.2,646.51 917.15,643.53 917.1,640.55 917.05,637.57 917,634.59Z" fill="#999"/><path d="M923.8,658 946.73,657.94 969.66,657.89 992.6,657.83 1015.53,657.78 1038.47,657.72 1061.4,657.67 1084.33,657.61 1107.27,657.56 1130.2,657.5 1130.2,654.9 1107.27,654.8 1084.33,654.7 1061.4,654.6 1038.47,654.5 1015.53,654.4 992.6,654.3 969.67,654.2 946.74,654.1 923.8,654Z" fill="#232323"/><circle cx="923.8" cy="656" r="2" fill="#232323"/><circle cx="1130.2" cy="656.2" r="1.3" fill="#232323"/><path d="M921.83,656.34 923.73,667.06 925.63,677.78 927.53,688.49 929.43,699.21 931.33,709.93 933.23,720.64 935.13,731.36 937.03,742.08 938.93,752.79 942.27,752.21 940.44,741.48 938.61,730.75 936.77,720.02 934.94,709.3 933.11,698.57 931.27,687.84 929.44,677.11 927.6,666.38 925.77,655.66Z" fill="#232323"/><circle cx="923.8" cy="656" r="2" fill="#232323"/><circle cx="940.6" cy="752.5" r="1.7" fill="#232323"/><path d="M1128.51,656.43 1127.02,666.83 1125.52,677.22 1124.03,687.61 1122.53,698 1121.04,708.39 1119.54,718.79 1118.04,729.18 1116.55,739.57 1115.05,749.96 1115.55,750.04 1117.23,739.67 1118.91,729.31 1120.59,718.95 1122.28,708.58 1123.96,698.22 1125.64,687.86 1127.32,677.49 1129.01,667.13 1130.69,656.77Z" fill="#232323"/><circle cx="1129.6" cy="656.6" r="1.1" fill="#232323"/><path d="M970.49,777.2 983.19,777.23 995.89,777.27 1008.59,777.3 1021.29,777.33 1033.99,777.37 1046.69,777.4 1059.39,777.43 1072.1,777.47 1084.8,777.5 1084.8,775.7 1072.1,775.6 1059.41,775.5 1046.71,775.4 1034.01,775.3 1021.31,775.2 1008.61,775.1 995.91,775 983.21,774.9 970.51,774.8Z" fill="#232323"/><circle cx="970.5" cy="776" r="1.2" fill="#232323"/><circle cx="1084.8" cy="776.6" r="0.9" fill="#232323"/><path d="M971.22,775.04 970.49,774.56 969.93,773.64 969.41,772.05 969.03,769.81 968.8,766.94 966.8,767.06 966.92,770.03 967.24,772.51 967.81,774.52 968.7,776.08 969.78,776.96Z" fill="#232323"/><circle cx="970.5" cy="776" r="1.2" fill="#232323"/><circle cx="967.8" cy="767" r="1" fill="#232323"/><path d="M1085.4,777.27 1086.47,776.24 1087.35,774.62 1087.98,772.56 1088.39,770.04 1088.6,767.06 1087.4,766.94 1087.03,769.85 1086.51,772.19 1085.86,773.97 1085.11,775.17 1084.2,775.93Z" fill="#232323"/><circle cx="1084.8" cy="776.6" r="0.9" fill="#232323"/><path d="M968.3,748.5 968.39,737 968.47,725.5 968.56,714 968.64,702.5 968.73,691 968.81,679.5 968.9,668 965.5,668 965.59,679.5 965.67,691 965.76,702.5 965.84,714 965.93,725.5 966.01,737 966.1,748.5Z" fill="#232323"/><circle cx="967.2" cy="748.5" r="1.1" fill="#232323"/><circle cx="967.2" cy="668" r="1.7" fill="#232323"/><path d="M968.89,668.21 968.98,667.3 969.13,666.95 969.34,666.76 969.82,666.59 970.87,666.49 970.53,663.11 969.06,663.27 967.58,663.86 966.39,664.95 965.7,666.4 965.51,667.79Z" fill="#232323"/><circle cx="967.2" cy="668" r="1.7" fill="#232323"/><circle cx="970.7" cy="664.8" r="1.7" fill="#232323"/><path d="M970.7,666.5 972.63,666.5 974.57,666.5 976.5,666.5 976.5,663.1 974.57,663.1 972.63,663.1 970.7,663.1Z" fill="#232323"/><circle cx="970.7" cy="664.8" r="1.7" fill="#232323"/><circle cx="976.5" cy="664.8" r="1.7" fill="#232323"/><path d="M976.33,666.49 977.38,666.59 977.86,666.76 978.07,666.95 978.22,667.3 978.31,668.21 981.69,667.79 981.5,666.4 980.81,664.95 979.62,663.86 978.14,663.27 976.67,663.11Z" fill="#232323"/><circle cx="976.5" cy="664.8" r="1.7" fill="#232323"/><circle cx="980" cy="668" r="1.7" fill="#232323"/><path d="M978.3,667.97 978.2,694.98 978.5,719.99 978.55,744 979.05,744 979.9,720.01 981,695.02 981.7,668.03Z" fill="#232323"/><circle cx="980" cy="668" r="1.7" fill="#232323"/><path d="M966.68,749.11 967.75,749.88 968.81,750.66 969.59,749.74 968.65,748.82 967.72,747.89Z" fill="#232323"/><circle cx="967.2" cy="748.5" r="0.8" fill="#232323"/><path d="M969.32,750.79 972.5,750.02 975.68,749.26 978.86,748.49 978.74,747.91 975.52,748.48 972.3,749.04 969.08,749.61Z" fill="#232323"/><path d="M994.2,748.5 994.29,737 994.37,725.5 994.46,714 994.54,702.5 994.63,691 994.71,679.5 994.8,668 991.4,668 991.49,679.5 991.57,691 991.66,702.5 991.74,714 991.83,725.5 991.91,737 992,748.5Z" fill="#232323"/><circle cx="993.1" cy="748.5" r="1.1" fill="#232323"/><circle cx="993.1" cy="668" r="1.7" fill="#232323"/><path d="M994.79,668.21 994.88,667.3 995.03,666.95 995.24,666.76 995.72,666.59 996.77,666.49 996.43,663.11 994.96,663.27 993.48,663.86 992.29,664.95 991.6,666.4 991.41,667.79Z" fill="#232323"/><circle cx="993.1" cy="668" r="1.7" fill="#232323"/><circle cx="996.6" cy="664.8" r="1.7" fill="#232323"/><path d="M996.6,666.5 998.9,666.5 1001.2,666.5 1003.5,666.5 1003.5,663.1 1001.2,663.1 998.9,663.1 996.6,663.1Z" fill="#232323"/><circle cx="996.6" cy="664.8" r="1.7" fill="#232323"/><circle cx="1003.5" cy="664.8" r="1.7" fill="#232323"/><path d="M1003.33,666.49 1004.38,666.59 1004.86,666.76 1005.07,666.95 1005.22,667.3 1005.31,668.21 1008.69,667.79 1008.5,666.4 1007.81,664.95 1006.62,663.86 1005.14,663.27 1003.67,663.11Z" fill="#232323"/><circle cx="1003.5" cy="664.8" r="1.7" fill="#232323"/><circle cx="1007" cy="668" r="1.7" fill="#232323"/><path d="M1005.3,667.97 1005.2,694.98 1005.5,719.99 1005.55,744 1006.05,744 1006.9,720.01 1008,695.02 1008.7,668.03Z" fill="#232323"/><circle cx="1007" cy="668" r="1.7" fill="#232323"/><path d="M992.58,749.11 993.65,749.88 994.71,750.66 995.49,749.74 994.55,748.82 993.62,747.89Z" fill="#232323"/><circle cx="993.1" cy="748.5" r="0.8" fill="#232323"/><path d="M995.21,750.79 998.76,750.02 1002.31,749.26 1005.86,748.49 1005.74,747.91 1002.16,748.47 998.57,749.04 994.99,749.61Z" fill="#232323"/><path d="M1021.2,748.5 1021.29,737 1021.37,725.5 1021.46,714 1021.54,702.5 1021.63,691 1021.71,679.5 1021.8,668 1018.4,668 1018.49,679.5 1018.57,691 1018.66,702.5 1018.74,714 1018.83,725.5 1018.91,737 1019,748.5Z" fill="#232323"/><circle cx="1020.1" cy="748.5" r="1.1" fill="#232323"/><circle cx="1020.1" cy="668" r="1.7" fill="#232323"/><path d="M1021.79,668.21 1021.88,667.3 1022.03,666.95 1022.24,666.76 1022.72,666.59 1023.77,666.49 1023.43,663.11 1021.96,663.27 1020.48,663.86 1019.29,664.95 1018.6,666.4 1018.41,667.79Z" fill="#232323"/><circle cx="1020.1" cy="668" r="1.7" fill="#232323"/><circle cx="1023.6" cy="664.8" r="1.7" fill="#232323"/><path d="M1023.6,666.5 1025.9,666.5 1028.2,666.5 1030.5,666.5 1030.5,663.1 1028.2,663.1 1025.9,663.1 1023.6,663.1Z" fill="#232323"/><circle cx="1023.6" cy="664.8" r="1.7" fill="#232323"/><circle cx="1030.5" cy="664.8" r="1.7" fill="#232323"/><path d="M1030.33,666.49 1031.38,666.59 1031.86,666.76 1032.07,666.95 1032.22,667.3 1032.31,668.21 1035.69,667.79 1035.5,666.4 1034.81,664.95 1033.62,663.86 1032.14,663.27 1030.67,663.11Z" fill="#232323"/><circle cx="1030.5" cy="664.8" r="1.7" fill="#232323"/><circle cx="1034" cy="668" r="1.7" fill="#232323"/><path d="M1032.3,667.97 1032.2,694.98 1032.5,719.99 1032.55,744 1033.05,744 1033.9,720.01 1035,695.02 1035.7,668.03Z" fill="#232323"/><circle cx="1034" cy="668" r="1.7" fill="#232323"/><path d="M1019.58,749.11 1020.65,749.88 1021.71,750.66 1022.49,749.74 1021.55,748.82 1020.62,747.89Z" fill="#232323"/><circle cx="1020.1" cy="748.5" r="0.8" fill="#232323"/><path d="M1022.21,750.79 1025.76,750.02 1029.31,749.26 1032.86,748.49 1032.74,747.91 1029.16,748.47 1025.57,749.04 1021.99,749.61Z" fill="#232323"/><path d="M1047.1,748.5 1047.19,737 1047.27,725.5 1047.36,714 1047.44,702.5 1047.53,691 1047.61,679.5 1047.7,668 1044.3,668 1044.39,679.5 1044.47,691 1044.56,702.5 1044.64,714 1044.73,725.5 1044.81,737 1044.9,748.5Z" fill="#232323"/><circle cx="1046" cy="748.5" r="1.1" fill="#232323"/><circle cx="1046" cy="668" r="1.7" fill="#232323"/><path d="M1047.69,668.21 1047.78,667.3 1047.93,666.95 1048.14,666.76 1048.62,666.59 1049.67,666.49 1049.33,663.11 1047.86,663.27 1046.38,663.86 1045.19,664.95 1044.5,666.4 1044.31,667.79Z" fill="#232323"/><circle cx="1046" cy="668" r="1.7" fill="#232323"/><circle cx="1049.5" cy="664.8" r="1.7" fill="#232323"/><path d="M1049.5,666.5 1051.8,666.5 1054.1,666.5 1056.4,666.5 1056.4,663.1 1054.1,663.1 1051.8,663.1 1049.5,663.1Z" fill="#232323"/><circle cx="1049.5" cy="664.8" r="1.7" fill="#232323"/><circle cx="1056.4" cy="664.8" r="1.7" fill="#232323"/><path d="M1056.23,666.49 1057.28,666.59 1057.76,666.76 1057.97,666.95 1058.12,667.3 1058.21,668.21 1061.59,667.79 1061.4,666.4 1060.71,664.95 1059.52,663.86 1058.04,663.27 1056.57,663.11Z" fill="#232323"/><circle cx="1056.4" cy="664.8" r="1.7" fill="#232323"/><circle cx="1059.9" cy="668" r="1.7" fill="#232323"/><path d="M1058.2,667.97 1058.1,694.98 1058.4,719.99 1058.45,744 1058.95,744 1059.8,720.01 1060.9,695.02 1061.6,668.03Z" fill="#232323"/><circle cx="1059.9" cy="668" r="1.7" fill="#232323"/><path d="M1045.48,749.11 1046.55,749.88 1047.61,750.66 1048.39,749.74 1047.45,748.82 1046.52,747.89Z" fill="#232323"/><circle cx="1046" cy="748.5" r="0.8" fill="#232323"/><path d="M1048.11,750.79 1051.66,750.02 1055.21,749.26 1058.76,748.49 1058.64,747.91 1055.06,748.47 1051.47,749.04 1047.89,749.61Z" fill="#232323"/><path d="M1075.2,748.5 1075.29,737 1075.37,725.5 1075.46,714 1075.54,702.5 1075.63,691 1075.71,679.5 1075.8,668 1072.4,668 1072.49,679.5 1072.57,691 1072.66,702.5 1072.74,714 1072.83,725.5 1072.91,737 1073,748.5Z" fill="#232323"/><circle cx="1074.1" cy="748.5" r="1.1" fill="#232323"/><circle cx="1074.1" cy="668" r="1.7" fill="#232323"/><path d="M1075.79,668.21 1075.88,667.3 1076.03,666.95 1076.24,666.76 1076.72,666.59 1077.77,666.49 1077.43,663.11 1075.96,663.27 1074.48,663.86 1073.29,664.95 1072.6,666.4 1072.41,667.79Z" fill="#232323"/><circle cx="1074.1" cy="668" r="1.7" fill="#232323"/><circle cx="1077.6" cy="664.8" r="1.7" fill="#232323"/><path d="M1077.6,666.5 1079.53,666.5 1081.47,666.5 1083.4,666.5 1083.4,663.1 1081.47,663.1 1079.53,663.1 1077.6,663.1Z" fill="#232323"/><circle cx="1077.6" cy="664.8" r="1.7" fill="#232323"/><circle cx="1083.4" cy="664.8" r="1.7" fill="#232323"/><path d="M1083.23,666.49 1084.28,666.59 1084.76,666.76 1084.97,666.95 1085.12,667.3 1085.21,668.21 1088.59,667.79 1088.4,666.4 1087.71,664.95 1086.52,663.86 1085.04,663.27 1083.57,663.11Z" fill="#232323"/><circle cx="1083.4" cy="664.8" r="1.7" fill="#232323"/><circle cx="1086.9" cy="668" r="1.7" fill="#232323"/><path d="M1085.2,667.97 1085.1,694.98 1085.4,719.99 1085.45,744 1085.95,744 1086.8,720.01 1087.9,695.02 1088.6,668.03Z" fill="#232323"/><circle cx="1086.9" cy="668" r="1.7" fill="#232323"/><path d="M1073.58,749.11 1074.65,749.88 1075.71,750.66 1076.49,749.74 1075.55,748.82 1074.62,747.89Z" fill="#232323"/><circle cx="1074.1" cy="748.5" r="0.8" fill="#232323"/><path d="M1076.22,750.79 1079.4,750.02 1082.58,749.26 1085.76,748.49 1085.64,747.91 1082.42,748.48 1079.2,749.04 1075.98,749.61Z" fill="#232323"/><path d="M924,774.3 924.01,772.37 924.18,770.44 924.53,768.52 925.04,766.63 925.72,764.8 926.56,763.02 927.55,761.31 928.69,759.69 929.98,758.18 931.4,756.78 932.94,755.51 934.59,754.37 936.34,753.37 938.18,752.54 940.09,751.86 942.05,751.35 944.06,751.01 946.1,750.85 948.14,750.97 950.16,751.26 952.15,751.73 954.08,752.37 955.95,753.17 957.74,754.14 959.44,755.25 961.03,756.51 962.5,757.9 963.78,759.46 964.91,761.13 965.89,762.88 966.7,764.69 967.35,766.56 967.83,768.48 968.14,770.41 968.28,772.36 968.25,774.3 968.07,776.22 967.73,778.11 967.22,779.96 966.56,781.75 965.75,783.46 964.79,785.09 963.7,786.63 962.49,788.05 961.16,789.36 959.76,790.58 958.26,791.67 956.68,792.62 955.02,793.42 953.3,794.08 951.54,794.58 949.74,794.93 947.92,795.12 946.1,795.15 944.28,795.12 942.46,794.93 940.66,794.58 938.9,794.08 937.18,793.42 935.52,792.62 933.94,791.67 932.44,790.58 931.04,789.36 929.72,788.05 928.51,786.62 927.42,785.08 926.47,783.45 925.67,781.74 925.01,779.95 924.51,778.11 924.17,776.22 924,774.3Z M927.2,774.3 927.18,775.95 927.31,777.61 927.59,779.26 928.01,780.89 928.57,782.48 929.27,784.02 930.11,785.5 931.08,786.91 932.17,788.23 933.4,789.43 934.74,790.52 936.18,791.49 937.69,792.34 939.28,793.05 940.92,793.62 942.62,794.05 944.35,794.32 946.1,794.45 947.85,794.32 949.58,794.05 951.28,793.62 952.92,793.05 954.51,792.34 956.02,791.49 957.46,790.52 958.8,789.43 960.03,788.23 961.12,786.9 962.08,785.49 962.92,784.01 963.61,782.47 964.17,780.88 964.58,779.25 964.85,777.61 964.97,775.95 964.95,774.3 964.76,772.67 964.43,771.07 963.97,769.51 963.37,768.01 962.66,766.58 961.82,765.22 960.87,763.96 959.82,762.78 958.69,761.71 957.52,760.69 956.28,759.76 954.96,758.96 953.58,758.27 952.14,757.7 950.66,757.27 949.16,756.96 947.63,756.79 946.1,756.75 944.56,756.74 943.03,756.87 941.5,757.14 940,757.54 938.53,758.07 937.11,758.73 935.74,759.51 934.45,760.41 933.23,761.43 932.1,762.55 931.06,763.77 930.14,765.08 929.32,766.48 928.63,767.94 928.07,769.47 927.64,771.05 927.35,772.66 927.2,774.3Z" fill="#232323" fill-rule="evenodd"/><path d="M934.5,775.4 934.59,774.38 934.78,773.39 935.04,772.41 935.39,771.47 935.82,770.56 936.33,769.7 936.9,768.89 937.54,768.14 938.25,767.45 938.99,766.8 939.78,766.23 940.62,765.73 941.49,765.3 942.4,764.96 943.33,764.69 944.28,764.51 945.24,764.41 946.2,764.4 947.16,764.38 948.13,764.44 949.1,764.58 950.05,764.81 950.99,765.13 951.9,765.53 952.78,766.01 953.61,766.56 954.4,767.2 955.14,767.9 955.82,768.66 956.43,769.49 956.97,770.38 957.44,771.31 957.82,772.29 958.12,773.3 958.33,774.34 958.45,775.4 958.41,776.47 958.27,777.53 958.05,778.57 957.73,779.6 957.33,780.59 956.84,781.54 956.27,782.45 955.62,783.3 954.9,784.1 954.1,784.82 953.25,785.47 952.34,786.04 951.39,786.53 950.4,786.93 949.37,787.25 948.33,787.47 947.27,787.61 946.2,787.65 945.13,787.58 944.08,787.41 943.05,787.15 942.05,786.81 941.08,786.38 940.16,785.86 939.29,785.28 938.47,784.61 937.71,783.89 937.03,783.09 936.42,782.24 935.89,781.35 935.45,780.42 935.08,779.45 934.8,778.45 934.61,777.44 934.51,776.42 934.5,775.4Z M937.3,775.4 937.37,776.17 937.5,776.93 937.7,777.68 937.96,778.4 938.28,779.09 938.67,779.75 939.1,780.37 939.59,780.95 940.12,781.48 940.69,781.97 941.3,782.4 941.94,782.78 942.61,783.09 943.31,783.35 944.02,783.55 944.74,783.68 945.47,783.75 946.2,783.75 946.93,783.71 947.65,783.61 948.36,783.45 949.05,783.23 949.72,782.94 950.36,782.6 950.97,782.21 951.54,781.76 952.07,781.27 952.56,780.74 953.01,780.17 953.4,779.56 953.74,778.92 954.03,778.25 954.25,777.56 954.41,776.85 954.51,776.13 954.55,775.4 954.59,774.67 954.57,773.92 954.47,773.18 954.32,772.45 954.09,771.72 953.81,771.01 953.45,770.32 953.04,769.66 952.56,769.04 952.03,768.45 951.44,767.92 950.8,767.43 950.12,767 949.39,766.63 948.63,766.32 947.84,766.08 947.03,765.9 946.2,765.8 945.37,765.86 944.54,766 943.74,766.21 942.95,766.48 942.2,766.83 941.48,767.23 940.81,767.7 940.17,768.22 939.59,768.79 939.08,769.42 938.62,770.09 938.23,770.8 937.91,771.53 937.65,772.29 937.46,773.06 937.34,773.84 937.28,774.62 937.3,775.4Z" fill="#232323" fill-rule="evenodd"/><path d="M941.7 765.2 L949.7 765.2 Q949.5 771 945.9 778.2 Q942.1 771 941.7 765.2Z" fill="#232323"/><path d="M1088,774.3 1088.01,772.37 1088.18,770.44 1088.53,768.52 1089.04,766.63 1089.72,764.8 1090.56,763.02 1091.55,761.31 1092.69,759.69 1093.98,758.18 1095.4,756.78 1096.94,755.51 1098.59,754.37 1100.34,753.37 1102.18,752.54 1104.09,751.86 1106.05,751.35 1108.06,751.01 1110.1,750.85 1112.14,750.97 1114.16,751.26 1116.15,751.73 1118.08,752.37 1119.95,753.17 1121.74,754.14 1123.44,755.25 1125.03,756.51 1126.5,757.9 1127.78,759.46 1128.91,761.13 1129.89,762.88 1130.7,764.69 1131.35,766.56 1131.83,768.48 1132.14,770.41 1132.28,772.36 1132.25,774.3 1132.07,776.22 1131.73,778.11 1131.22,779.96 1130.56,781.75 1129.75,783.46 1128.79,785.09 1127.7,786.63 1126.49,788.05 1125.16,789.36 1123.76,790.58 1122.26,791.67 1120.67,792.62 1119.02,793.42 1117.3,794.08 1115.54,794.58 1113.74,794.93 1111.92,795.12 1110.1,795.15 1108.28,795.12 1106.46,794.93 1104.66,794.58 1102.9,794.08 1101.18,793.42 1099.52,792.62 1097.94,791.67 1096.44,790.58 1095.04,789.36 1093.72,788.05 1092.51,786.62 1091.42,785.08 1090.47,783.45 1089.67,781.74 1089.01,779.95 1088.51,778.11 1088.17,776.22 1088,774.3Z M1091.2,774.3 1091.18,775.95 1091.31,777.61 1091.59,779.26 1092.01,780.89 1092.57,782.48 1093.27,784.02 1094.11,785.5 1095.08,786.91 1096.17,788.23 1097.4,789.43 1098.74,790.52 1100.17,791.49 1101.69,792.34 1103.28,793.05 1104.92,793.62 1106.62,794.05 1108.35,794.32 1110.1,794.45 1111.85,794.32 1113.58,794.05 1115.28,793.62 1116.92,793.05 1118.51,792.34 1120.02,791.49 1121.46,790.52 1122.8,789.43 1124.03,788.23 1125.12,786.9 1126.08,785.49 1126.92,784.01 1127.61,782.47 1128.17,780.88 1128.58,779.25 1128.85,777.61 1128.97,775.95 1128.95,774.3 1128.76,772.67 1128.43,771.07 1127.97,769.51 1127.37,768.01 1126.66,766.58 1125.82,765.22 1124.87,763.96 1123.82,762.78 1122.69,761.71 1121.52,760.69 1120.28,759.76 1118.96,758.96 1117.58,758.27 1116.14,757.7 1114.66,757.27 1113.16,756.96 1111.63,756.79 1110.1,756.75 1108.56,756.74 1107.03,756.87 1105.5,757.14 1104,757.54 1102.53,758.07 1101.11,758.73 1099.74,759.51 1098.45,760.41 1097.23,761.43 1096.1,762.55 1095.06,763.77 1094.14,765.08 1093.32,766.48 1092.63,767.94 1092.07,769.47 1091.64,771.05 1091.35,772.66 1091.2,774.3Z" fill="#232323" fill-rule="evenodd"/><path d="M1098.5,775.4 1098.59,774.38 1098.78,773.39 1099.04,772.41 1099.39,771.47 1099.82,770.56 1100.33,769.7 1100.9,768.89 1101.54,768.14 1102.25,767.45 1102.99,766.8 1103.78,766.23 1104.62,765.73 1105.49,765.3 1106.4,764.96 1107.33,764.69 1108.28,764.51 1109.24,764.41 1110.2,764.4 1111.16,764.38 1112.13,764.44 1113.1,764.58 1114.05,764.81 1114.99,765.13 1115.9,765.53 1116.78,766.01 1117.61,766.56 1118.4,767.2 1119.14,767.9 1119.82,768.66 1120.43,769.49 1120.97,770.38 1121.44,771.31 1121.82,772.29 1122.12,773.3 1122.33,774.34 1122.45,775.4 1122.41,776.47 1122.27,777.53 1122.05,778.57 1121.73,779.6 1121.33,780.59 1120.84,781.54 1120.27,782.45 1119.62,783.3 1118.9,784.1 1118.1,784.82 1117.25,785.47 1116.34,786.04 1115.39,786.53 1114.4,786.93 1113.37,787.25 1112.33,787.47 1111.27,787.61 1110.2,787.65 1109.13,787.58 1108.08,787.41 1107.05,787.15 1106.05,786.81 1105.08,786.38 1104.16,785.86 1103.29,785.28 1102.47,784.61 1101.71,783.89 1101.03,783.09 1100.42,782.24 1099.89,781.35 1099.45,780.42 1099.08,779.45 1098.8,778.45 1098.61,777.44 1098.51,776.42 1098.5,775.4Z M1101.3,775.4 1101.37,776.17 1101.5,776.93 1101.7,777.68 1101.96,778.4 1102.28,779.09 1102.67,779.75 1103.1,780.37 1103.59,780.95 1104.12,781.48 1104.69,781.97 1105.3,782.4 1105.94,782.78 1106.61,783.09 1107.31,783.35 1108.02,783.55 1108.74,783.68 1109.47,783.75 1110.2,783.75 1110.93,783.71 1111.65,783.61 1112.36,783.45 1113.05,783.23 1113.72,782.94 1114.36,782.6 1114.97,782.21 1115.54,781.76 1116.07,781.27 1116.56,780.74 1117.01,780.17 1117.4,779.56 1117.74,778.92 1118.03,778.25 1118.25,777.56 1118.41,776.85 1118.51,776.13 1118.55,775.4 1118.59,774.67 1118.57,773.92 1118.47,773.18 1118.32,772.45 1118.09,771.72 1117.81,771.01 1117.45,770.32 1117.04,769.66 1116.56,769.04 1116.03,768.45 1115.44,767.92 1114.8,767.43 1114.12,767 1113.39,766.63 1112.63,766.32 1111.84,766.08 1111.03,765.9 1110.2,765.8 1109.37,765.86 1108.54,766 1107.74,766.21 1106.95,766.48 1106.2,766.83 1105.48,767.23 1104.81,767.7 1104.17,768.22 1103.59,768.79 1103.08,769.42 1102.62,770.09 1102.23,770.8 1101.91,771.53 1101.65,772.29 1101.46,773.06 1101.34,773.84 1101.28,774.62 1101.3,775.4Z" fill="#232323" fill-rule="evenodd"/><path d="M1105.7 765.2 L1113.7 765.2 Q1113.5 771 1109.9 778.2 Q1106.1 771 1105.7 765.2Z" fill="#232323"/><path d="M681.58,402.99 692.19,400.81 702.79,398.63 713.39,396.44 723.99,394.26 734.59,392.08 734.21,390.32 723.65,392.7 713.09,395.08 702.53,397.45 691.97,399.83 681.42,402.21Z" fill="#45c836"/><circle cx="734.4" cy="391.2" r="0.9" fill="#45c836"/><path d="M733.8,391.55 739.34,401.14 744.89,410.73 750.44,420.32 755.99,429.92 761.54,439.51 763.26,438.49 757.61,428.96 751.96,419.44 746.31,409.91 740.66,400.38 735,390.85Z" fill="#45c836"/><circle cx="734.4" cy="391.2" r="0.7" fill="#45c836"/><circle cx="762.4" cy="439" r="1" fill="#45c836"/><path d="M762.95,440.18 765.09,439.21 767.23,438.25 769.37,437.28 771.5,436.32 773.64,435.36 772.36,432.64 770.26,433.68 768.15,434.72 766.05,435.75 763.95,436.79 761.85,437.82Z" fill="#45c836"/><circle cx="762.4" cy="439" r="1.3" fill="#45c836"/><circle cx="773" cy="434" r="1.5" fill="#45c836"/><path d="M773.37,435.45 774.96,434.98 775.82,435.04 776.43,435.45 777.04,436.51 777.53,438.49 780.07,437.91 779.58,435.59 778.55,433.65 776.84,432.38 774.71,432.08 772.63,432.55Z" fill="#45c836"/><circle cx="773" cy="434" r="1.5" fill="#45c836"/><circle cx="778.8" cy="438.2" r="1.3" fill="#45c836"/><path d="M777.54,437.89 775.26,447.3 772.98,456.71 770.69,466.12 768.41,475.53 766.13,484.94 768.27,485.46 770.63,476.07 772.99,466.68 775.34,457.29 777.7,447.9 780.06,438.51Z" fill="#45c836"/><circle cx="778.8" cy="438.2" r="1.3" fill="#45c836"/><circle cx="767.2" cy="485.2" r="1.1" fill="#45c836"/><path d="M766.11,484.69 765.54,485.81 764.97,486.32 764.29,486.55 763.3,486.53 761.81,486.13 761.19,489.07 763.03,489.37 764.86,489.23 766.45,488.49 767.63,487.22 768.29,485.71Z" fill="#45c836"/><circle cx="767.2" cy="485.2" r="1.2" fill="#45c836"/><circle cx="761.5" cy="487.6" r="1.5" fill="#45c836"/><path d="M761.98,486.18 752.94,483.1 743.9,480.02 734.86,476.94 725.82,473.86 716.78,470.78 715.82,473.62 724.86,476.7 733.9,479.78 742.94,482.86 751.98,485.94 761.02,489.02Z" fill="#45c836"/><circle cx="761.5" cy="487.6" r="1.5" fill="#45c836"/><circle cx="716.3" cy="472.2" r="1.5" fill="#45c836"/><path d="M717.7,472.2 717.68,471.12 717.66,470.04 717.64,468.96 717.62,467.88 717.6,466.8 715,466.8 714.98,467.88 714.96,468.96 714.94,470.04 714.92,471.12 714.9,472.2Z" fill="#45c836"/><circle cx="716.3" cy="472.2" r="1.4" fill="#45c836"/><circle cx="716.3" cy="466.8" r="1.3" fill="#45c836"/><path d="M717,467.9 719.24,466.42 721.48,464.95 723.71,463.48 725.95,462 728.19,460.53 727.01,458.67 724.73,460.08 722.45,461.48 720.16,462.89 717.88,464.3 715.6,465.7Z" fill="#45c836"/><circle cx="716.3" cy="466.8" r="1.3" fill="#45c836"/><circle cx="727.6" cy="459.6" r="1.1" fill="#45c836"/><path d="M728.57,459.08 725.64,453.67 722.98,448.77 720.57,444.4 718.42,440.54 716.53,437.2 714.9,434.38 713.53,432.07 712.41,430.27 711.55,429 710.05,430 710.87,431.25 711.95,433.02 713.28,435.31 714.87,438.14 716.71,441.49 718.81,445.36 721.16,449.75 723.77,454.67 726.63,460.12Z" fill="#45c836"/><circle cx="727.6" cy="459.6" r="1.1" fill="#45c836"/><circle cx="710.8" cy="429.5" r="0.9" fill="#45c836"/><path d="M711.57,429.04 710.1,426.69 708.49,424.38 706.76,422.12 704.9,419.93 702.92,417.8 700.81,415.72 698.58,413.71 696.23,411.75 693.75,409.85 691.15,408.01 688.42,406.22 685.57,404.5 682.6,402.83 682.4,403.17 685.3,404.94 688.07,406.76 690.71,408.63 693.22,410.54 695.6,412.5 697.86,414.52 699.98,416.58 701.97,418.69 703.84,420.84 705.58,423.05 707.18,425.3 708.66,427.6 710.03,429.96Z" fill="#45c836"/><circle cx="710.8" cy="429.5" r="0.9" fill="#45c836"/><path d="M680.78,402.88 677.41,408.42 674.04,413.97 670.67,419.52 667.3,425.06 663.93,430.61 660.56,436.16 657.19,441.7 659.61,443.1 662.7,437.39 665.79,431.68 668.87,425.97 671.96,420.26 675.04,414.55 678.13,408.83 681.22,403.12Z" fill="#45c836"/><circle cx="658.4" cy="442.4" r="1.4" fill="#45c836"/><path d="M657.79,443.43 662.5,446.28 667.22,449.13 671.93,451.98 676.65,454.83 681.36,457.68 686.07,460.53 690.79,463.38 692.41,460.62 687.64,457.87 682.87,455.12 678.1,452.37 673.33,449.62 668.55,446.87 663.78,444.12 659.01,441.37Z" fill="#45c836"/><circle cx="658.4" cy="442.4" r="1.2" fill="#45c836"/><circle cx="691.6" cy="462" r="1.6" fill="#45c836"/><path d="M692.7,462.69 694.74,459.35 696.77,456 698.81,452.66 700.85,449.31 702.89,445.97 704.92,442.62 706.96,439.28 705.44,438.32 703.3,441.6 701.17,444.89 699.04,448.17 696.9,451.46 694.77,454.74 692.63,458.02 690.5,461.31Z" fill="#45c836"/><circle cx="691.6" cy="462" r="1.3" fill="#45c836"/><circle cx="706.2" cy="438.8" r="0.9" fill="#45c836"/><path d="M706.87,438.6 705.8,435.15 704.59,431.81 703.24,428.59 701.75,425.49 700.12,422.52 698.35,419.68 696.45,416.95 694.4,414.36 692.22,411.88 689.9,409.53 687.44,407.31 684.85,405.21 682.12,403.24 681.88,403.56 684.55,405.59 687.08,407.73 689.46,409.98 691.7,412.36 693.8,414.85 695.76,417.45 697.57,420.18 699.25,423.02 700.78,425.98 702.18,429.05 703.43,432.24 704.55,435.56 705.53,439Z" fill="#45c836"/><circle cx="706.2" cy="438.8" r="0.7" fill="#45c836"/><path d="M639,576.47 634.04,570.8 629.08,565.14 624.13,559.47 619.17,553.8 614.21,548.14 609.25,542.47 604.3,536.8 602.5,538.4 607.55,543.99 612.59,549.58 617.63,555.17 622.67,560.76 627.72,566.35 632.76,571.94 637.8,577.53Z" fill="#45c836"/><circle cx="638.4" cy="577" r="0.8" fill="#45c836"/><circle cx="603.4" cy="537.6" r="1.2" fill="#45c836"/><path d="M604.53,538.24 608.42,531.33 612.3,524.42 616.19,517.51 620.07,510.61 623.95,503.7 627.84,496.79 631.72,489.88 629.28,488.52 625.42,495.44 621.56,502.36 617.7,509.28 613.84,516.2 609.98,523.12 606.12,530.04 602.27,536.96Z" fill="#45c836"/><circle cx="603.4" cy="537.6" r="1.3" fill="#45c836"/><circle cx="630.5" cy="489.2" r="1.4" fill="#45c836"/><path d="M631.21,487.99 629.5,487.01 627.79,486.03 626.08,485.05 624.37,484.06 622.66,483.08 621.34,485.32 623.03,486.34 624.72,487.35 626.41,488.37 628.1,489.39 629.79,490.41Z" fill="#45c836"/><circle cx="630.5" cy="489.2" r="1.4" fill="#45c836"/><circle cx="622" cy="484.2" r="1.3" fill="#45c836"/><path d="M622.77,483.15 622.08,482.64 621.72,481.99 621.49,480.91 621.46,479.37 621.69,477.33 618.71,477.07 618.57,479.3 618.72,481.3 619.2,483.02 620.11,484.43 621.23,485.25Z" fill="#45c836"/><circle cx="622" cy="484.2" r="1.3" fill="#45c836"/><circle cx="620.2" cy="477.2" r="1.5" fill="#45c836"/><path d="M620.67,478.62 627.43,476.4 634.18,474.17 640.94,471.94 647.7,469.71 654.46,467.48 661.21,465.25 667.97,463.02 667.03,460.18 660.27,462.4 653.52,464.63 646.76,466.86 640,469.09 633.24,471.32 626.49,473.55 619.73,475.78Z" fill="#45c836"/><circle cx="620.2" cy="477.2" r="1.5" fill="#45c836"/><circle cx="667.5" cy="461.6" r="1.5" fill="#45c836"/><path d="M667.64,463.09 668.92,462.94 669.69,463.06 670.21,463.36 670.66,463.93 671.08,465.08 673.72,464.12 673.17,462.6 672.16,461.23 670.72,460.33 669.03,459.99 667.36,460.11Z" fill="#45c836"/><circle cx="667.5" cy="461.6" r="1.5" fill="#45c836"/><circle cx="672.4" cy="464.6" r="1.4" fill="#45c836"/><path d="M671.03,464.88 672.44,471.64 673.85,478.4 675.27,485.17 676.68,491.93 678.1,498.69 679.51,505.46 680.92,512.22 683.08,511.78 681.75,505 680.42,498.22 679.09,491.44 677.76,484.66 676.43,477.88 675.1,471.1 673.77,464.32Z" fill="#45c836"/><circle cx="672.4" cy="464.6" r="1.4" fill="#45c836"/><circle cx="682" cy="512" r="1.1" fill="#45c836"/><path d="M681.2,511.4 680.24,512.8 679.25,513.56 678.12,513.87 676.6,513.71 676.4,515.29 678.19,515.57 680,515.19 681.57,514.14 682.8,512.6Z" fill="#45c836"/><circle cx="682" cy="512" r="1" fill="#45c836"/><circle cx="676.5" cy="514.5" r="0.8" fill="#45c836"/><path d="M676.75,513.85 675.56,513.43 674.37,513 673.17,512.58 671.98,512.16 670.78,511.73 670.42,512.67 671.58,513.16 672.75,513.66 673.91,514.16 675.08,514.65 676.25,515.15Z" fill="#45c836"/><circle cx="676.5" cy="514.5" r="0.7" fill="#45c836"/><path d="M670.22,511.87 666.05,516.74 661.88,521.6 657.71,526.47 653.54,531.34 649.37,536.2 649.83,536.6 654.06,531.78 658.29,526.97 662.52,522.16 666.75,517.34 670.98,512.53Z" fill="#45c836"/><path d="M649.34,536.24 648.2,538.14 647.11,540.23 646.06,542.52 645.07,545 644.13,547.67 643.25,550.53 642.41,553.59 641.62,556.84 640.89,560.28 640.2,563.92 639.57,567.74 638.98,571.77 638.45,575.98 638.75,576.02 639.31,571.81 639.92,567.8 640.58,563.98 641.29,560.36 642.05,556.94 642.86,553.71 643.71,550.67 644.62,547.83 645.57,545.18 646.57,542.74 647.62,540.48 648.71,538.43 649.86,536.56Z" fill="#45c836"/><path d="M661.6,538.3 666.64,538.32 671.68,538.34 676.72,538.36 681.76,538.38 686.8,538.4 686.8,537.2 681.76,537.22 676.72,537.24 671.68,537.26 666.64,537.28 661.6,537.3Z" fill="#45c836"/><path d="M686.1,537.8 686.08,545.68 686.06,553.56 686.04,561.44 686.02,569.32 686,577.2 687.6,577.2 687.58,569.32 687.56,561.44 687.54,553.56 687.52,545.68 687.5,537.8Z" fill="#45c836"/><circle cx="686.8" cy="537.8" r="0.7" fill="#45c836"/><circle cx="686.8" cy="577.2" r="0.8" fill="#45c836"/><path d="M686.8,576.2 679.88,576.2 672.97,576.2 666.05,576.2 659.14,576.2 652.22,576.2 645.31,576.2 638.4,576.2 638.4,578.6 645.32,578.54 652.23,578.49 659.15,578.43 666.06,578.37 672.98,578.31 679.89,578.26 686.8,578.2Z" fill="#45c836"/><circle cx="686.8" cy="577.2" r="1" fill="#45c836"/><circle cx="638.4" cy="577.4" r="1.2" fill="#45c836"/><path d="M638.79,575.06 639.85,571.58 641.03,568.21 642.33,564.95 643.74,561.79 645.28,558.74 646.93,555.79 648.71,552.95 650.6,550.21 652.62,547.58 654.75,545.06 657,542.63 659.37,540.32 661.87,538.1 661.33,537.5 658.84,539.76 656.47,542.12 654.21,544.59 652.08,547.16 650.08,549.83 648.19,552.61 646.43,555.49 644.78,558.48 643.27,561.57 641.87,564.76 640.59,568.05 639.44,571.45 638.41,574.94Z" fill="#45c836"/><path d="M811.36,524.53 809.16,531.75 806.96,538.97 804.76,546.19 802.57,553.41 800.37,560.63 798.17,567.85 795.97,575.07 796.83,575.33 798.98,568.09 801.12,560.86 803.26,553.62 805.41,546.38 807.55,539.15 809.7,531.91 811.84,524.67Z" fill="#45c836"/><path d="M796.4,574.6 789.45,574.59 782.51,574.57 775.57,574.56 768.63,574.54 761.68,574.53 754.74,574.51 747.8,574.5 747.8,576.3 754.75,576.23 761.69,576.16 768.63,576.09 775.57,576.01 782.52,575.94 789.46,575.87 796.4,575.8Z" fill="#45c836"/><circle cx="747.8" cy="575.4" r="0.9" fill="#45c836"/><path d="M747.29,574.66 745.82,575.63 744.36,576.6 742.9,577.56 741.44,578.53 739.97,579.5 741.23,581.3 742.64,580.27 744.06,579.24 745.48,578.2 746.9,577.17 748.31,576.14Z" fill="#45c836"/><circle cx="747.8" cy="575.4" r="0.9" fill="#45c836"/><circle cx="740.6" cy="580.4" r="1.1" fill="#45c836"/><path d="M739.52,580.21 739.22,581.76 738.92,583.32 738.62,584.88 738.32,586.43 738.02,587.99 740.38,588.41 740.64,586.85 740.9,585.28 741.16,583.72 741.42,582.16 741.68,580.59Z" fill="#45c836"/><circle cx="740.6" cy="580.4" r="1.1" fill="#45c836"/><circle cx="739.2" cy="588.2" r="1.2" fill="#45c836"/><path d="M738.15,587.62 737.42,588.89 736.77,589.44 736.07,589.6 735.06,589.43 733.55,588.71 732.45,591.29 734.31,592.03 736.24,592.22 738.02,591.67 739.39,590.41 740.25,588.78Z" fill="#45c836"/><circle cx="739.2" cy="588.2" r="1.2" fill="#45c836"/><circle cx="733" cy="590" r="1.4" fill="#45c836"/><path d="M733.57,588.79 728.53,583.9 723.48,579 718.43,574.11 713.38,569.21 708.34,564.31 703.29,559.42 698.24,554.52 696.16,556.68 701.22,561.55 706.29,566.43 711.36,571.31 716.43,576.18 721.49,581.06 726.56,585.93 731.63,590.81Z" fill="#45c836"/><circle cx="732.6" cy="589.8" r="1.4" fill="#45c836"/><circle cx="697.2" cy="555.6" r="1.5" fill="#45c836"/><path d="M698.25,554.53 697.52,553.87 697.49,553.85 697.64,553.58 698.62,552.7 696.58,550.5 695.26,551.77 694.51,553.55 694.98,555.48 696.15,556.67Z" fill="#45c836"/><circle cx="697.2" cy="555.6" r="1.5" fill="#45c836"/><circle cx="697.6" cy="551.6" r="1.5" fill="#45c836"/><path d="M698.58,552.74 703.58,548.45 708.58,544.17 713.58,539.88 718.58,535.6 723.58,531.31 728.58,527.02 733.58,522.74 731.62,520.46 726.62,524.75 721.62,529.03 716.62,533.32 711.62,537.6 706.62,541.89 701.62,546.18 696.62,550.46Z" fill="#45c836"/><circle cx="697.6" cy="551.6" r="1.5" fill="#45c836"/><circle cx="732.6" cy="521.6" r="1.5" fill="#45c836"/><path d="M733.35,522.9 735.04,521.91 736.07,521.68 736.67,521.84 737.3,522.49 738.04,524.13 740.76,522.87 739.8,520.84 738.22,519.27 736.1,518.68 733.91,519.14 731.85,520.3Z" fill="#45c836"/><circle cx="732.6" cy="521.6" r="1.5" fill="#45c836"/><circle cx="739.4" cy="523.5" r="1.5" fill="#45c836"/><path d="M737.92,523.72 738.28,526.18 738.64,528.64 739,531.1 739.36,533.56 739.72,536.02 742.68,535.58 742.32,533.12 741.96,530.66 741.6,528.2 741.24,525.74 740.88,523.28Z" fill="#45c836"/><circle cx="739.4" cy="523.5" r="1.5" fill="#45c836"/><circle cx="741.2" cy="535.8" r="1.5" fill="#45c836"/><path d="M741.14,537.3 744.99,537.39 749,537.46 753.16,537.48 757.47,537.44 761.91,537.29 766.46,537.03 771.13,536.63 775.89,536.06 780.74,535.3 785.67,534.33 790.67,533.12 795.73,531.66 800.83,529.91 805.97,527.85 811.12,525.47 810.88,524.93 805.66,527.12 800.5,528.99 795.4,530.55 790.35,531.83 785.38,532.86 780.48,533.65 775.67,534.24 770.96,534.64 766.34,534.88 761.84,534.99 757.46,534.98 753.2,534.89 749.08,534.73 745.09,534.52 741.26,534.3Z" fill="#45c836"/><circle cx="741.2" cy="535.8" r="1.5" fill="#45c836"/><path d="M754.09,503.93 759.08,501.33 764.07,498.73 769.06,496.13 774.05,493.54 779.04,490.94 784.03,488.34 789.02,485.74 787.78,483.46 782.88,486.23 777.99,489 773.09,491.78 768.2,494.55 763.3,497.33 758.41,500.1 753.51,502.87Z" fill="#45c836"/><circle cx="788.4" cy="484.6" r="1.3" fill="#45c836"/><path d="M787.01,485.4 790.35,491.06 793.69,496.71 797.02,502.37 800.36,508.03 803.69,513.69 807.03,519.34 810.36,525 812.44,523.8 809.2,518.09 805.97,512.37 802.73,506.66 799.49,500.94 796.26,495.23 793.02,489.51 789.79,483.8Z" fill="#45c836"/><circle cx="788.4" cy="484.6" r="1.6" fill="#45c836"/><circle cx="811.4" cy="524.4" r="1.2" fill="#45c836"/><path d="M811.18,523.63 806.77,524.96 802.46,526.07 798.25,526.98 794.14,527.69 790.17,528.24 786.33,528.61 782.65,528.84 779.15,528.93 775.83,528.9 772.72,528.75 769.83,528.5 769.77,529.1 772.67,529.42 775.8,529.64 779.15,529.75 782.68,529.75 786.4,529.61 790.28,529.32 794.31,528.86 798.48,528.24 802.77,527.42 807.16,526.4 811.62,525.17Z" fill="#45c836"/><circle cx="811.4" cy="524.4" r="0.8" fill="#45c836"/><path d="M770.01,528.67 766.84,523.57 763.66,518.47 760.49,513.38 757.31,508.28 754.14,503.19 753.46,503.61 756.69,508.68 759.91,513.74 763.14,518.81 766.36,523.87 769.59,528.93Z" fill="#45c836"/></svg>
<div class="lb" style="left:359.5px;top:382.5px">FABRICANTES</div>
<div class="lb" style="left:1027.5px;top:382.5px">PRODUCTORES</div>
<div class="lb" style="left:359px;top:828.5px">GESTORES</div>
<div class="lb" style="left:1027.2px;top:828.5px">POSEEDORES DE</div>
<div class="lb" style="left:1027.2px;top:864px">RESIDUOS</div>
</body></html>
